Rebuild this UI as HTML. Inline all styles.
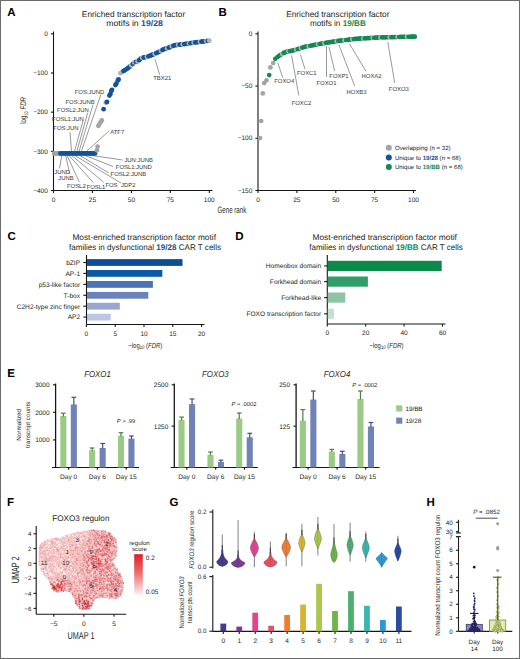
<!DOCTYPE html>
<html><head><meta charset="utf-8"><style>
html,body{margin:0;padding:0;background:#fff;}
svg{display:block;font-family:"Liberation Sans",sans-serif;text-rendering:geometricPrecision;}
</style></head><body>
<svg width="520" height="659" viewBox="0 0 520 659">
<rect x="0" y="0" width="520" height="659" fill="#fff"/>
<text x="7.20" y="16.20" font-size="11.5" font-weight="bold" fill="#000">A</text>
<text x="218.40" y="15.90" font-size="11.5" font-weight="bold" fill="#000">B</text>
<text x="7.40" y="239.70" font-size="11.5" font-weight="bold" fill="#000">C</text>
<text x="235.20" y="239.70" font-size="11.5" font-weight="bold" fill="#000">D</text>
<text x="7.30" y="376.50" font-size="11.5" font-weight="bold" fill="#000">E</text>
<text x="7.00" y="506.00" font-size="11.5" font-weight="bold" fill="#000">F</text>
<text x="169.60" y="506.30" font-size="11.5" font-weight="bold" fill="#000">G</text>
<text x="426.60" y="505.50" font-size="11.5" font-weight="bold" fill="#000">H</text>
<line x1="53.50" y1="31.50" x2="53.50" y2="190.50" stroke="#161616" stroke-width="1.1"/>
<line x1="50.90" y1="33.80" x2="53.50" y2="33.80" stroke="#161616" stroke-width="1.1"/>
<text x="47.80" y="36.00" font-size="6.5" text-anchor="end" fill="#231f20">0</text>
<line x1="50.90" y1="72.97" x2="53.50" y2="72.97" stroke="#161616" stroke-width="1.1"/>
<text x="47.80" y="75.17" font-size="6.5" text-anchor="end" fill="#231f20">−100</text>
<line x1="50.90" y1="112.15" x2="53.50" y2="112.15" stroke="#161616" stroke-width="1.1"/>
<text x="47.80" y="114.35" font-size="6.5" text-anchor="end" fill="#231f20">−200</text>
<line x1="50.90" y1="151.32" x2="53.50" y2="151.32" stroke="#161616" stroke-width="1.1"/>
<text x="47.80" y="153.52" font-size="6.5" text-anchor="end" fill="#231f20">−300</text>
<line x1="50.90" y1="190.50" x2="53.50" y2="190.50" stroke="#161616" stroke-width="1.1"/>
<text x="47.80" y="192.70" font-size="6.5" text-anchor="end" fill="#231f20">−400</text>
<line x1="53.50" y1="190.50" x2="212.50" y2="190.50" stroke="#161616" stroke-width="1.1"/>
<line x1="53.50" y1="190.50" x2="53.50" y2="193.10" stroke="#161616" stroke-width="1.1"/>
<text x="53.50" y="201.70" font-size="6.5" text-anchor="middle" fill="#231f20">0</text>
<line x1="92.45" y1="190.50" x2="92.45" y2="193.10" stroke="#161616" stroke-width="1.1"/>
<text x="92.45" y="201.70" font-size="6.5" text-anchor="middle" fill="#231f20">25</text>
<line x1="131.40" y1="190.50" x2="131.40" y2="193.10" stroke="#161616" stroke-width="1.1"/>
<text x="131.40" y="201.70" font-size="6.5" text-anchor="middle" fill="#231f20">50</text>
<line x1="170.35" y1="190.50" x2="170.35" y2="193.10" stroke="#161616" stroke-width="1.1"/>
<text x="170.35" y="201.70" font-size="6.5" text-anchor="middle" fill="#231f20">75</text>
<line x1="209.30" y1="190.50" x2="209.30" y2="193.10" stroke="#161616" stroke-width="1.1"/>
<text x="209.30" y="201.70" font-size="6.5" text-anchor="middle" fill="#231f20">100</text>
<text x="133.50" y="16.50" font-size="8.3" text-anchor="middle" fill="#231f20">Enriched transcription factor</text>
<text x="134.6" y="25.9" font-size="8.3" text-anchor="middle" fill="#231f20" textLength="56.7" lengthAdjust="spacingAndGlyphs">motifs in <tspan font-weight="bold" fill="#18508f">19/28</tspan></text>
<text transform="translate(26.3,110.4) rotate(-90)" font-size="8.2" text-anchor="middle" fill="#231f20" textLength="26.7" lengthAdjust="spacingAndGlyphs">log<tspan font-size="5.2" dy="1.8">10</tspan><tspan dy="-1.8" font-style="italic"> FDR</tspan></text>
<text x="231.9" y="213.1" font-size="9.2" text-anchor="middle" fill="#231f20" textLength="28.8" lengthAdjust="spacingAndGlyphs">Gene rank</text>
<circle cx="54.20" cy="153.40" r="2.40" fill="#a2a3a6"/>
<circle cx="55.30" cy="153.40" r="2.40" fill="#a2a3a6"/>
<circle cx="56.40" cy="153.40" r="2.40" fill="#a2a3a6"/>
<circle cx="57.50" cy="153.40" r="2.40" fill="#a2a3a6"/>
<circle cx="58.60" cy="153.40" r="2.40" fill="#a2a3a6"/>
<circle cx="59.70" cy="153.40" r="2.40" fill="#a2a3a6"/>
<circle cx="60.50" cy="153.40" r="2.40" fill="#11539c"/>
<circle cx="62.00" cy="153.40" r="2.40" fill="#11539c"/>
<circle cx="63.50" cy="153.40" r="2.40" fill="#11539c"/>
<circle cx="65.00" cy="153.40" r="2.40" fill="#11539c"/>
<circle cx="66.50" cy="153.40" r="2.40" fill="#11539c"/>
<circle cx="68.00" cy="153.40" r="2.40" fill="#11539c"/>
<circle cx="69.50" cy="153.40" r="2.40" fill="#11539c"/>
<circle cx="71.00" cy="153.40" r="2.40" fill="#11539c"/>
<circle cx="72.50" cy="153.40" r="2.40" fill="#11539c"/>
<circle cx="74.00" cy="153.40" r="2.40" fill="#11539c"/>
<circle cx="75.50" cy="153.40" r="2.40" fill="#11539c"/>
<circle cx="77.00" cy="153.40" r="2.40" fill="#11539c"/>
<circle cx="78.50" cy="153.40" r="2.40" fill="#11539c"/>
<circle cx="80.00" cy="153.40" r="2.40" fill="#11539c"/>
<circle cx="81.50" cy="153.40" r="2.40" fill="#11539c"/>
<circle cx="83.00" cy="153.40" r="2.40" fill="#11539c"/>
<circle cx="84.50" cy="153.40" r="2.40" fill="#11539c"/>
<circle cx="86.00" cy="153.40" r="2.40" fill="#11539c"/>
<circle cx="87.50" cy="153.40" r="2.40" fill="#11539c"/>
<circle cx="89.00" cy="153.40" r="2.40" fill="#11539c"/>
<circle cx="90.50" cy="153.40" r="2.40" fill="#11539c"/>
<circle cx="92.00" cy="153.40" r="2.40" fill="#11539c"/>
<circle cx="93.50" cy="153.40" r="2.40" fill="#11539c"/>
<circle cx="95.00" cy="153.40" r="2.40" fill="#11539c"/>
<circle cx="97.00" cy="150.30" r="2.40" fill="#a2a3a6"/>
<circle cx="97.60" cy="146.60" r="2.40" fill="#a2a3a6"/>
<circle cx="98.40" cy="125.80" r="2.40" fill="#a2a3a6"/>
<circle cx="99.60" cy="123.80" r="2.40" fill="#a2a3a6"/>
<circle cx="100.80" cy="121.80" r="2.40" fill="#a2a3a6"/>
<circle cx="101.80" cy="120.40" r="2.40" fill="#a2a3a6"/>
<circle cx="103.60" cy="109.20" r="2.40" fill="#11539c"/>
<circle cx="105.80" cy="102.60" r="2.40" fill="#a2a3a6"/>
<circle cx="107.00" cy="102.00" r="2.40" fill="#11539c"/>
<circle cx="109.40" cy="95.60" r="2.40" fill="#11539c"/>
<circle cx="110.30" cy="94.20" r="2.40" fill="#11539c"/>
<circle cx="111.30" cy="91.00" r="2.40" fill="#11539c"/>
<circle cx="112.00" cy="89.80" r="2.40" fill="#11539c"/>
<circle cx="115.40" cy="85.00" r="2.40" fill="#11539c"/>
<circle cx="116.40" cy="83.60" r="2.40" fill="#11539c"/>
<circle cx="117.80" cy="80.40" r="2.40" fill="#11539c"/>
<circle cx="118.60" cy="79.40" r="2.40" fill="#11539c"/>
<circle cx="120.40" cy="73.20" r="2.40" fill="#b3b5b8"/>
<circle cx="121.96" cy="72.05" r="2.40" fill="#b3b5b8"/>
<circle cx="123.52" cy="71.00" r="2.40" fill="#11539c"/>
<circle cx="125.08" cy="70.06" r="2.40" fill="#11539c"/>
<circle cx="126.64" cy="69.09" r="2.40" fill="#11539c"/>
<circle cx="128.20" cy="67.89" r="2.40" fill="#11539c"/>
<circle cx="129.76" cy="66.69" r="2.40" fill="#11539c"/>
<circle cx="131.32" cy="65.30" r="2.40" fill="#b3b5b8"/>
<circle cx="132.88" cy="63.79" r="2.40" fill="#11539c"/>
<circle cx="134.44" cy="62.42" r="2.40" fill="#b3b5b8"/>
<circle cx="136.00" cy="61.93" r="2.40" fill="#11539c"/>
<circle cx="137.56" cy="61.44" r="2.40" fill="#b3b5b8"/>
<circle cx="139.12" cy="60.14" r="2.40" fill="#11539c"/>
<circle cx="140.68" cy="58.54" r="2.40" fill="#11539c"/>
<circle cx="142.24" cy="57.81" r="2.40" fill="#b3b5b8"/>
<circle cx="143.80" cy="57.52" r="2.40" fill="#11539c"/>
<circle cx="145.36" cy="57.20" r="2.40" fill="#11539c"/>
<circle cx="146.92" cy="56.79" r="2.40" fill="#b3b5b8"/>
<circle cx="148.48" cy="56.32" r="2.40" fill="#11539c"/>
<circle cx="150.04" cy="55.73" r="2.40" fill="#11539c"/>
<circle cx="151.60" cy="55.15" r="2.40" fill="#11539c"/>
<circle cx="153.16" cy="54.48" r="2.40" fill="#11539c"/>
<circle cx="154.72" cy="53.79" r="2.40" fill="#b3b5b8"/>
<circle cx="156.28" cy="53.10" r="2.40" fill="#11539c"/>
<circle cx="157.84" cy="52.39" r="2.40" fill="#11539c"/>
<circle cx="159.40" cy="51.69" r="2.40" fill="#11539c"/>
<circle cx="160.96" cy="50.83" r="2.40" fill="#b3b5b8"/>
<circle cx="162.52" cy="49.95" r="2.40" fill="#11539c"/>
<circle cx="164.08" cy="49.22" r="2.40" fill="#11539c"/>
<circle cx="165.64" cy="48.72" r="2.40" fill="#11539c"/>
<circle cx="167.20" cy="48.23" r="2.40" fill="#b3b5b8"/>
<circle cx="168.76" cy="47.61" r="2.40" fill="#11539c"/>
<circle cx="170.32" cy="46.98" r="2.40" fill="#11539c"/>
<circle cx="171.88" cy="46.35" r="2.40" fill="#b3b5b8"/>
<circle cx="173.44" cy="45.77" r="2.40" fill="#11539c"/>
<circle cx="175.00" cy="45.20" r="2.40" fill="#11539c"/>
<circle cx="176.56" cy="45.01" r="2.40" fill="#11539c"/>
<circle cx="178.12" cy="44.83" r="2.40" fill="#b3b5b8"/>
<circle cx="179.68" cy="44.64" r="2.40" fill="#11539c"/>
<circle cx="181.24" cy="44.45" r="2.40" fill="#11539c"/>
<circle cx="182.80" cy="44.26" r="2.40" fill="#b3b5b8"/>
<circle cx="184.36" cy="44.08" r="2.40" fill="#11539c"/>
<circle cx="185.92" cy="43.86" r="2.40" fill="#11539c"/>
<circle cx="187.48" cy="43.63" r="2.40" fill="#11539c"/>
<circle cx="189.04" cy="43.39" r="2.40" fill="#b3b5b8"/>
<circle cx="190.60" cy="43.16" r="2.40" fill="#11539c"/>
<circle cx="192.16" cy="42.93" r="2.40" fill="#11539c"/>
<circle cx="193.72" cy="42.69" r="2.40" fill="#b3b5b8"/>
<circle cx="195.28" cy="42.46" r="2.40" fill="#11539c"/>
<circle cx="196.84" cy="42.27" r="2.40" fill="#11539c"/>
<circle cx="198.40" cy="42.07" r="2.40" fill="#11539c"/>
<circle cx="199.96" cy="41.87" r="2.40" fill="#b3b5b8"/>
<circle cx="201.52" cy="41.67" r="2.40" fill="#11539c"/>
<circle cx="203.08" cy="41.48" r="2.40" fill="#11539c"/>
<circle cx="204.64" cy="41.28" r="2.40" fill="#11539c"/>
<circle cx="206.20" cy="41.08" r="2.40" fill="#b3b5b8"/>
<circle cx="207.76" cy="40.88" r="2.40" fill="#11539c"/>
<circle cx="209.32" cy="40.69" r="2.40" fill="#b3b5b8"/>
<line x1="100.80" y1="94.60" x2="81.50" y2="151.00" stroke="#444" stroke-width="0.55"/>
<text x="104.20" y="94.10" font-size="5.9" text-anchor="end" fill="#333">FOS:JUND</text>
<line x1="93.00" y1="104.60" x2="79.20" y2="151.00" stroke="#444" stroke-width="0.55"/>
<text x="94.60" y="103.60" font-size="5.9" text-anchor="end" fill="#333">FOS:JUNB</text>
<line x1="87.70" y1="112.60" x2="77.00" y2="151.00" stroke="#444" stroke-width="0.55"/>
<text x="88.80" y="112.10" font-size="5.9" text-anchor="end" fill="#333">FOSL2:JUN</text>
<line x1="83.00" y1="120.80" x2="74.60" y2="151.00" stroke="#444" stroke-width="0.55"/>
<text x="83.80" y="120.60" font-size="5.9" text-anchor="end" fill="#333">FOSL1:JUN</text>
<line x1="70.00" y1="132.30" x2="71.50" y2="151.00" stroke="#444" stroke-width="0.55"/>
<text x="78.50" y="130.30" font-size="5.9" text-anchor="end" fill="#333">FOS:JUN</text>
<line x1="109.20" y1="130.80" x2="86.90" y2="151.00" stroke="#444" stroke-width="0.55"/>
<text x="110.20" y="133.60" font-size="5.9" fill="#333">ATF7</text>
<line x1="155.00" y1="59.20" x2="159.60" y2="74.60" stroke="#444" stroke-width="0.55"/>
<text x="153.20" y="80.10" font-size="5.9" fill="#333">TBX21</text>
<line x1="61.80" y1="155.40" x2="59.50" y2="168.40" stroke="#444" stroke-width="0.55"/>
<text x="54.30" y="174.40" font-size="5.9" fill="#333">JUND</text>
<line x1="65.60" y1="155.40" x2="69.90" y2="174.40" stroke="#444" stroke-width="0.55"/>
<text x="58.30" y="180.00" font-size="5.9" fill="#333">JUNB</text>
<line x1="67.00" y1="155.40" x2="79.40" y2="182.20" stroke="#444" stroke-width="0.55"/>
<text x="67.00" y="187.80" font-size="5.9" fill="#333">FOSL2</text>
<line x1="69.00" y1="155.40" x2="93.30" y2="182.70" stroke="#444" stroke-width="0.55"/>
<text x="86.70" y="188.60" font-size="5.9" fill="#333">FOSL1</text>
<line x1="71.60" y1="155.40" x2="103.70" y2="182.20" stroke="#444" stroke-width="0.55"/>
<text x="105.40" y="187.30" font-size="5.9" fill="#333">FOS</text>
<line x1="74.20" y1="155.20" x2="121.00" y2="183.00" stroke="#444" stroke-width="0.55"/>
<text x="121.00" y="186.90" font-size="5.9" fill="#333">JDP2</text>
<line x1="79.40" y1="155.20" x2="108.80" y2="173.00" stroke="#444" stroke-width="0.55"/>
<text x="110.60" y="175.70" font-size="5.9" fill="#333">FOSL2:JUNB</text>
<line x1="84.60" y1="155.20" x2="113.20" y2="166.60" stroke="#444" stroke-width="0.55"/>
<text x="115.80" y="168.70" font-size="5.9" fill="#333">FOSL1:JUND</text>
<line x1="89.80" y1="155.20" x2="122.70" y2="160.00" stroke="#444" stroke-width="0.55"/>
<text x="124.40" y="162.30" font-size="5.9" fill="#333">JUN:JUNB</text>
<line x1="258.00" y1="31.50" x2="258.00" y2="190.50" stroke="#161616" stroke-width="1.1"/>
<line x1="255.40" y1="33.80" x2="258.00" y2="33.80" stroke="#161616" stroke-width="1.1"/>
<text x="252.30" y="36.00" font-size="6.5" text-anchor="end" fill="#231f20">0</text>
<line x1="255.40" y1="86.03" x2="258.00" y2="86.03" stroke="#161616" stroke-width="1.1"/>
<text x="252.30" y="88.23" font-size="6.5" text-anchor="end" fill="#231f20">−50</text>
<line x1="255.40" y1="138.27" x2="258.00" y2="138.27" stroke="#161616" stroke-width="1.1"/>
<text x="252.30" y="140.47" font-size="6.5" text-anchor="end" fill="#231f20">−100</text>
<line x1="255.40" y1="190.50" x2="258.00" y2="190.50" stroke="#161616" stroke-width="1.1"/>
<text x="252.30" y="192.70" font-size="6.5" text-anchor="end" fill="#231f20">−150</text>
<line x1="258.00" y1="190.50" x2="416.00" y2="190.50" stroke="#161616" stroke-width="1.1"/>
<line x1="258.00" y1="190.50" x2="258.00" y2="193.10" stroke="#161616" stroke-width="1.1"/>
<text x="258.00" y="201.70" font-size="6.5" text-anchor="middle" fill="#231f20">0</text>
<line x1="296.88" y1="190.50" x2="296.88" y2="193.10" stroke="#161616" stroke-width="1.1"/>
<text x="296.88" y="201.70" font-size="6.5" text-anchor="middle" fill="#231f20">25</text>
<line x1="335.75" y1="190.50" x2="335.75" y2="193.10" stroke="#161616" stroke-width="1.1"/>
<text x="335.75" y="201.70" font-size="6.5" text-anchor="middle" fill="#231f20">50</text>
<line x1="374.62" y1="190.50" x2="374.62" y2="193.10" stroke="#161616" stroke-width="1.1"/>
<text x="374.62" y="201.70" font-size="6.5" text-anchor="middle" fill="#231f20">75</text>
<line x1="413.50" y1="190.50" x2="413.50" y2="193.10" stroke="#161616" stroke-width="1.1"/>
<text x="413.50" y="201.70" font-size="6.5" text-anchor="middle" fill="#231f20">100</text>
<text x="337.80" y="16.70" font-size="8.3" text-anchor="middle" fill="#231f20">Enriched transcription factor</text>
<text x="337.9" y="25.9" font-size="8.3" text-anchor="middle" fill="#231f20" textLength="55.8" lengthAdjust="spacingAndGlyphs">motifs in <tspan font-weight="bold" fill="#12894f">19/BB</tspan></text>
<circle cx="260.00" cy="138.10" r="2.35" fill="#a2a3a6"/>
<circle cx="261.20" cy="121.00" r="2.35" fill="#a2a3a6"/>
<circle cx="262.80" cy="93.40" r="2.35" fill="#a2a3a6"/>
<circle cx="264.20" cy="83.10" r="2.35" fill="#a2a3a6"/>
<circle cx="266.50" cy="80.30" r="2.35" fill="#a2a3a6"/>
<circle cx="269.20" cy="75.10" r="2.35" fill="#12894f"/>
<circle cx="270.40" cy="67.40" r="2.35" fill="#a2a3a6"/>
<circle cx="273.20" cy="63.00" r="2.35" fill="#a2a3a6"/>
<circle cx="275.30" cy="58.80" r="2.35" fill="#12894f"/>
<circle cx="277.50" cy="57.00" r="2.35" fill="#12894f"/>
<circle cx="279.06" cy="55.81" r="2.35" fill="#12894f"/>
<circle cx="280.62" cy="54.77" r="2.35" fill="#12894f"/>
<circle cx="282.18" cy="53.81" r="2.35" fill="#b3b5b8"/>
<circle cx="283.74" cy="52.91" r="2.35" fill="#12894f"/>
<circle cx="285.30" cy="52.29" r="2.35" fill="#12894f"/>
<circle cx="286.86" cy="51.67" r="2.35" fill="#12894f"/>
<circle cx="288.42" cy="51.36" r="2.35" fill="#b3b5b8"/>
<circle cx="289.98" cy="51.16" r="2.35" fill="#12894f"/>
<circle cx="291.54" cy="50.90" r="2.35" fill="#12894f"/>
<circle cx="293.10" cy="50.44" r="2.35" fill="#12894f"/>
<circle cx="294.66" cy="49.98" r="2.35" fill="#12894f"/>
<circle cx="296.22" cy="49.52" r="2.35" fill="#b3b5b8"/>
<circle cx="297.78" cy="49.05" r="2.35" fill="#12894f"/>
<circle cx="299.34" cy="48.55" r="2.35" fill="#12894f"/>
<circle cx="300.90" cy="48.06" r="2.35" fill="#b3b5b8"/>
<circle cx="302.46" cy="47.56" r="2.35" fill="#12894f"/>
<circle cx="304.02" cy="47.07" r="2.35" fill="#12894f"/>
<circle cx="305.58" cy="46.57" r="2.35" fill="#12894f"/>
<circle cx="307.14" cy="46.27" r="2.35" fill="#12894f"/>
<circle cx="308.70" cy="46.01" r="2.35" fill="#b3b5b8"/>
<circle cx="310.26" cy="45.75" r="2.35" fill="#12894f"/>
<circle cx="311.82" cy="45.48" r="2.35" fill="#12894f"/>
<circle cx="313.38" cy="45.22" r="2.35" fill="#12894f"/>
<circle cx="314.94" cy="44.92" r="2.35" fill="#12894f"/>
<circle cx="316.50" cy="44.61" r="2.35" fill="#12894f"/>
<circle cx="318.06" cy="44.31" r="2.35" fill="#b3b5b8"/>
<circle cx="319.62" cy="44.00" r="2.35" fill="#12894f"/>
<circle cx="321.18" cy="43.69" r="2.35" fill="#12894f"/>
<circle cx="322.74" cy="43.39" r="2.35" fill="#12894f"/>
<circle cx="324.30" cy="43.08" r="2.35" fill="#b3b5b8"/>
<circle cx="325.86" cy="42.84" r="2.35" fill="#12894f"/>
<circle cx="327.42" cy="42.60" r="2.35" fill="#12894f"/>
<circle cx="328.98" cy="42.36" r="2.35" fill="#12894f"/>
<circle cx="330.54" cy="42.11" r="2.35" fill="#12894f"/>
<circle cx="332.10" cy="41.87" r="2.35" fill="#12894f"/>
<circle cx="333.66" cy="41.63" r="2.35" fill="#12894f"/>
<circle cx="335.22" cy="41.39" r="2.35" fill="#12894f"/>
<circle cx="336.78" cy="41.14" r="2.35" fill="#b3b5b8"/>
<circle cx="338.34" cy="40.90" r="2.35" fill="#12894f"/>
<circle cx="339.90" cy="40.70" r="2.35" fill="#12894f"/>
<circle cx="341.46" cy="40.52" r="2.35" fill="#12894f"/>
<circle cx="343.02" cy="40.35" r="2.35" fill="#12894f"/>
<circle cx="344.58" cy="40.17" r="2.35" fill="#b3b5b8"/>
<circle cx="346.14" cy="40.00" r="2.35" fill="#12894f"/>
<circle cx="347.70" cy="39.82" r="2.35" fill="#12894f"/>
<circle cx="349.26" cy="39.65" r="2.35" fill="#12894f"/>
<circle cx="350.82" cy="39.47" r="2.35" fill="#12894f"/>
<circle cx="352.38" cy="39.30" r="2.35" fill="#b3b5b8"/>
<circle cx="353.94" cy="39.12" r="2.35" fill="#12894f"/>
<circle cx="355.50" cy="38.95" r="2.35" fill="#12894f"/>
<circle cx="357.06" cy="38.77" r="2.35" fill="#12894f"/>
<circle cx="358.62" cy="38.65" r="2.35" fill="#12894f"/>
<circle cx="360.18" cy="38.56" r="2.35" fill="#12894f"/>
<circle cx="361.74" cy="38.47" r="2.35" fill="#12894f"/>
<circle cx="363.30" cy="38.38" r="2.35" fill="#b3b5b8"/>
<circle cx="364.86" cy="38.30" r="2.35" fill="#12894f"/>
<circle cx="366.42" cy="38.21" r="2.35" fill="#12894f"/>
<circle cx="367.98" cy="38.12" r="2.35" fill="#12894f"/>
<circle cx="369.54" cy="38.03" r="2.35" fill="#12894f"/>
<circle cx="371.10" cy="37.95" r="2.35" fill="#12894f"/>
<circle cx="372.66" cy="37.86" r="2.35" fill="#b3b5b8"/>
<circle cx="374.22" cy="37.77" r="2.35" fill="#12894f"/>
<circle cx="375.78" cy="37.68" r="2.35" fill="#12894f"/>
<circle cx="377.34" cy="37.59" r="2.35" fill="#12894f"/>
<circle cx="378.90" cy="37.51" r="2.35" fill="#12894f"/>
<circle cx="380.46" cy="37.42" r="2.35" fill="#b3b5b8"/>
<circle cx="382.02" cy="37.37" r="2.35" fill="#12894f"/>
<circle cx="383.58" cy="37.34" r="2.35" fill="#12894f"/>
<circle cx="385.14" cy="37.30" r="2.35" fill="#12894f"/>
<circle cx="386.70" cy="37.27" r="2.35" fill="#12894f"/>
<circle cx="388.26" cy="37.23" r="2.35" fill="#12894f"/>
<circle cx="389.82" cy="37.19" r="2.35" fill="#b3b5b8"/>
<circle cx="391.38" cy="37.16" r="2.35" fill="#12894f"/>
<circle cx="392.94" cy="37.12" r="2.35" fill="#12894f"/>
<circle cx="394.50" cy="37.09" r="2.35" fill="#12894f"/>
<circle cx="396.06" cy="37.05" r="2.35" fill="#12894f"/>
<circle cx="397.62" cy="37.02" r="2.35" fill="#b3b5b8"/>
<circle cx="399.18" cy="36.98" r="2.35" fill="#12894f"/>
<circle cx="400.74" cy="36.95" r="2.35" fill="#12894f"/>
<circle cx="402.30" cy="36.91" r="2.35" fill="#12894f"/>
<circle cx="403.86" cy="36.88" r="2.35" fill="#12894f"/>
<circle cx="405.42" cy="36.84" r="2.35" fill="#12894f"/>
<circle cx="406.98" cy="36.80" r="2.35" fill="#b3b5b8"/>
<circle cx="408.54" cy="36.77" r="2.35" fill="#12894f"/>
<circle cx="410.10" cy="36.73" r="2.35" fill="#12894f"/>
<circle cx="411.66" cy="36.70" r="2.35" fill="#12894f"/>
<circle cx="413.22" cy="36.66" r="2.35" fill="#12894f"/>
<circle cx="414.78" cy="36.63" r="2.35" fill="#12894f"/>
<line x1="277.80" y1="62.80" x2="282.70" y2="77.70" stroke="#444" stroke-width="0.55"/>
<text x="284.20" y="83.40" font-size="5.9" text-anchor="middle" fill="#333">FOXO4</text>
<line x1="291.60" y1="55.40" x2="298.80" y2="95.40" stroke="#444" stroke-width="0.55"/>
<text x="301.50" y="105.20" font-size="5.9" text-anchor="middle" fill="#333">FOXC2</text>
<line x1="300.40" y1="54.60" x2="305.00" y2="69.20" stroke="#444" stroke-width="0.55"/>
<text x="306.80" y="75.00" font-size="5.9" text-anchor="middle" fill="#333">FOXC1</text>
<line x1="326.50" y1="46.20" x2="326.50" y2="77.00" stroke="#444" stroke-width="0.55"/>
<text x="326.50" y="85.30" font-size="5.9" text-anchor="middle" fill="#333">FOXO1</text>
<line x1="329.00" y1="47.00" x2="334.60" y2="71.00" stroke="#444" stroke-width="0.55"/>
<text x="339.00" y="78.00" font-size="5.9" text-anchor="middle" fill="#333">FOXP1</text>
<line x1="339.00" y1="45.00" x2="354.70" y2="86.00" stroke="#444" stroke-width="0.55"/>
<text x="356.60" y="93.60" font-size="5.9" text-anchor="middle" fill="#333">HOXB3</text>
<line x1="349.60" y1="44.00" x2="365.80" y2="71.00" stroke="#444" stroke-width="0.55"/>
<text x="371.60" y="77.90" font-size="5.9" text-anchor="middle" fill="#333">HOXA2</text>
<line x1="387.80" y1="42.00" x2="394.70" y2="83.00" stroke="#444" stroke-width="0.55"/>
<text x="398.80" y="90.80" font-size="5.9" text-anchor="middle" fill="#333">FOXO3</text>
<circle cx="388.80" cy="147.80" r="3.00" fill="#a2a3a6"/>
<text x="394.90" y="149.90" font-size="6.1" fill="#231f20">Overlapping (n = 32)</text>
<circle cx="388.80" cy="157.40" r="3.00" fill="#11539c"/>
<text x="394.9" y="159.50" font-size="6.1" fill="#231f20">Unique to <tspan font-weight="bold" fill="#18508f">19/28</tspan> (n = 68)</text>
<circle cx="388.80" cy="166.90" r="3.00" fill="#12894f"/>
<text x="394.9" y="169.00" font-size="6.1" fill="#231f20">Unique to <tspan font-weight="bold" fill="#12894f">19/BB</tspan> (n = 68)</text>
<line x1="86.50" y1="255.00" x2="86.50" y2="324.50" stroke="#161616" stroke-width="1.1"/>
<line x1="86.50" y1="324.50" x2="204.50" y2="324.50" stroke="#161616" stroke-width="1.1"/>
<line x1="86.40" y1="324.50" x2="86.40" y2="327.10" stroke="#161616" stroke-width="1.1"/>
<text x="86.40" y="335.70" font-size="6.5" text-anchor="middle" fill="#231f20">0</text>
<line x1="115.20" y1="324.50" x2="115.20" y2="327.10" stroke="#161616" stroke-width="1.1"/>
<text x="115.20" y="335.70" font-size="6.5" text-anchor="middle" fill="#231f20">5</text>
<line x1="144.00" y1="324.50" x2="144.00" y2="327.10" stroke="#161616" stroke-width="1.1"/>
<text x="144.00" y="335.70" font-size="6.5" text-anchor="middle" fill="#231f20">10</text>
<line x1="172.80" y1="324.50" x2="172.80" y2="327.10" stroke="#161616" stroke-width="1.1"/>
<text x="172.80" y="335.70" font-size="6.5" text-anchor="middle" fill="#231f20">15</text>
<line x1="201.60" y1="324.50" x2="201.60" y2="327.10" stroke="#161616" stroke-width="1.1"/>
<text x="201.60" y="335.70" font-size="6.5" text-anchor="middle" fill="#231f20">20</text>
<rect x="87.00" y="259.10" width="95.50" height="6.80" fill="#0c4f96"/>
<line x1="83.30" y1="262.50" x2="86.50" y2="262.50" stroke="#161616" stroke-width="1.1"/>
<text x="80.10" y="264.80" font-size="6.6" text-anchor="end" fill="#231f20">bZIP</text>
<rect x="87.00" y="270.00" width="75.30" height="6.80" fill="#0b5aa6"/>
<line x1="83.30" y1="273.40" x2="86.50" y2="273.40" stroke="#161616" stroke-width="1.1"/>
<text x="80.10" y="275.70" font-size="6.6" text-anchor="end" fill="#231f20">AP-1</text>
<rect x="87.00" y="281.00" width="65.90" height="6.80" fill="#4b72b4"/>
<line x1="83.30" y1="284.40" x2="86.50" y2="284.40" stroke="#161616" stroke-width="1.1"/>
<text x="80.10" y="286.70" font-size="6.6" text-anchor="end" fill="#231f20">p53-like factor</text>
<rect x="87.00" y="291.90" width="61.30" height="6.80" fill="#6a83bd"/>
<line x1="83.30" y1="295.30" x2="86.50" y2="295.30" stroke="#161616" stroke-width="1.1"/>
<text x="80.10" y="297.60" font-size="6.6" text-anchor="end" fill="#231f20">T-box</text>
<rect x="87.00" y="302.80" width="32.80" height="6.80" fill="#98a6d1"/>
<line x1="83.30" y1="306.20" x2="86.50" y2="306.20" stroke="#161616" stroke-width="1.1"/>
<text x="80.10" y="308.50" font-size="6.6" text-anchor="end" fill="#231f20">C2H2-type zinc finger</text>
<rect x="87.00" y="313.70" width="23.70" height="6.80" fill="#bcc5e2"/>
<line x1="83.30" y1="317.10" x2="86.50" y2="317.10" stroke="#161616" stroke-width="1.1"/>
<text x="80.10" y="319.40" font-size="6.6" text-anchor="end" fill="#231f20">AP2</text>
<text x="144.20" y="240.10" font-size="8.2" text-anchor="middle" fill="#231f20" textLength="143.50" lengthAdjust="spacingAndGlyphs">Most-enriched transcription factor motif</text>
<text x="145" y="249.7" font-size="8.2" text-anchor="middle" fill="#231f20" textLength="152" lengthAdjust="spacingAndGlyphs">families in dysfunctional <tspan font-weight="bold" fill="#18508f">19/28</tspan> CAR T cells</text>
<text x="145.3" y="347.5" font-size="7.3" text-anchor="middle" fill="#231f20" textLength="34" lengthAdjust="spacingAndGlyphs">−log<tspan font-size="5.2" dy="1.6">10</tspan><tspan dy="-1.6"> (</tspan><tspan font-style="italic">FDR</tspan>)</text>
<line x1="327.30" y1="255.00" x2="327.30" y2="324.00" stroke="#161616" stroke-width="1.1"/>
<line x1="327.30" y1="324.00" x2="445.50" y2="324.00" stroke="#161616" stroke-width="1.1"/>
<line x1="327.30" y1="324.00" x2="327.30" y2="326.60" stroke="#161616" stroke-width="1.1"/>
<text x="327.30" y="335.20" font-size="6.5" text-anchor="middle" fill="#231f20">0</text>
<line x1="365.70" y1="324.00" x2="365.70" y2="326.60" stroke="#161616" stroke-width="1.1"/>
<text x="365.70" y="335.20" font-size="6.5" text-anchor="middle" fill="#231f20">20</text>
<line x1="404.10" y1="324.00" x2="404.10" y2="326.60" stroke="#161616" stroke-width="1.1"/>
<text x="404.10" y="335.20" font-size="6.5" text-anchor="middle" fill="#231f20">40</text>
<line x1="442.50" y1="324.00" x2="442.50" y2="326.60" stroke="#161616" stroke-width="1.1"/>
<text x="442.50" y="335.20" font-size="6.5" text-anchor="middle" fill="#231f20">60</text>
<rect x="327.80" y="260.80" width="113.90" height="10.20" fill="#0b8a4c"/>
<line x1="324.10" y1="265.90" x2="327.30" y2="265.90" stroke="#161616" stroke-width="1.1"/>
<text x="321.20" y="268.20" font-size="6.6" text-anchor="end" fill="#231f20">Homeobox domain</text>
<rect x="327.80" y="276.50" width="40.10" height="10.20" fill="#2f9e6b"/>
<line x1="324.10" y1="281.60" x2="327.30" y2="281.60" stroke="#161616" stroke-width="1.1"/>
<text x="321.20" y="283.90" font-size="6.6" text-anchor="end" fill="#231f20">Forkhead domain</text>
<rect x="327.80" y="292.50" width="17.50" height="10.20" fill="#8cc5a4"/>
<line x1="324.10" y1="297.60" x2="327.30" y2="297.60" stroke="#161616" stroke-width="1.1"/>
<text x="321.20" y="299.90" font-size="6.6" text-anchor="end" fill="#231f20">Forkhead-like</text>
<rect x="327.80" y="308.70" width="6.20" height="10.20" fill="#c6e0d0"/>
<line x1="324.10" y1="313.80" x2="327.30" y2="313.80" stroke="#161616" stroke-width="1.1"/>
<text x="321.20" y="316.10" font-size="6.6" text-anchor="end" fill="#231f20">FOXO transcription factor</text>
<text x="384.70" y="240.10" font-size="8.2" text-anchor="middle" fill="#231f20" textLength="144.50" lengthAdjust="spacingAndGlyphs">Most-enriched transcription factor motif</text>
<text x="386" y="249.7" font-size="8.2" text-anchor="middle" fill="#231f20" textLength="153.5" lengthAdjust="spacingAndGlyphs">families in dysfunctional <tspan font-weight="bold" fill="#12894f">19/BB</tspan> CAR T cells</text>
<text x="386.5" y="347.5" font-size="7.3" text-anchor="middle" fill="#231f20" textLength="34" lengthAdjust="spacingAndGlyphs">−log<tspan font-size="5.2" dy="1.6">10</tspan><tspan dy="-1.6"> (</tspan><tspan font-style="italic">FDR</tspan>)</text>
<line x1="55.60" y1="383.50" x2="55.60" y2="467.50" stroke="#161616" stroke-width="1.3"/>
<line x1="53.00" y1="384.80" x2="55.60" y2="384.80" stroke="#161616" stroke-width="1.1"/>
<text x="49.60" y="387.10" font-size="6.5" text-anchor="end" fill="#231f20">3000</text>
<line x1="53.00" y1="412.30" x2="55.60" y2="412.30" stroke="#161616" stroke-width="1.1"/>
<text x="49.60" y="414.60" font-size="6.5" text-anchor="end" fill="#231f20">2000</text>
<line x1="53.00" y1="439.90" x2="55.60" y2="439.90" stroke="#161616" stroke-width="1.1"/>
<text x="49.60" y="442.20" font-size="6.5" text-anchor="end" fill="#231f20">1000</text>
<line x1="52.00" y1="467.50" x2="139.10" y2="467.50" stroke="#161616" stroke-width="1.1"/>
<line x1="68.60" y1="467.50" x2="68.60" y2="469.70" stroke="#161616" stroke-width="1.1"/>
<text x="68.60" y="478.70" font-size="6.6" text-anchor="middle" fill="#231f20">Day 0</text>
<rect x="60.30" y="416.00" width="6.10" height="51.50" fill="#9bca87"/>
<line x1="63.35" y1="416.50" x2="63.35" y2="413.20" stroke="#4f7d3f" stroke-width="1.2"/>
<line x1="61.00" y1="413.20" x2="65.70" y2="413.20" stroke="#4f7d3f" stroke-width="1.2"/>
<rect x="70.80" y="404.50" width="6.10" height="63.00" fill="#7083b6"/>
<line x1="73.85" y1="405.00" x2="73.85" y2="397.30" stroke="#3f4f82" stroke-width="1.2"/>
<line x1="71.50" y1="397.30" x2="76.20" y2="397.30" stroke="#3f4f82" stroke-width="1.2"/>
<line x1="97.40" y1="467.50" x2="97.40" y2="469.70" stroke="#161616" stroke-width="1.1"/>
<text x="97.40" y="478.70" font-size="6.6" text-anchor="middle" fill="#231f20">Day 6</text>
<rect x="89.10" y="450.20" width="6.10" height="17.30" fill="#9bca87"/>
<line x1="92.15" y1="450.70" x2="92.15" y2="448.00" stroke="#4f7d3f" stroke-width="1.2"/>
<line x1="89.80" y1="448.00" x2="94.50" y2="448.00" stroke="#4f7d3f" stroke-width="1.2"/>
<rect x="99.60" y="448.00" width="6.10" height="19.50" fill="#7083b6"/>
<line x1="102.65" y1="448.50" x2="102.65" y2="443.50" stroke="#3f4f82" stroke-width="1.2"/>
<line x1="100.30" y1="443.50" x2="105.00" y2="443.50" stroke="#3f4f82" stroke-width="1.2"/>
<line x1="126.20" y1="467.50" x2="126.20" y2="469.70" stroke="#161616" stroke-width="1.1"/>
<text x="126.20" y="478.70" font-size="6.6" text-anchor="middle" fill="#231f20">Day 15</text>
<rect x="117.90" y="436.00" width="6.10" height="31.50" fill="#9bca87"/>
<line x1="120.95" y1="436.50" x2="120.95" y2="432.70" stroke="#4f7d3f" stroke-width="1.2"/>
<line x1="118.60" y1="432.70" x2="123.30" y2="432.70" stroke="#4f7d3f" stroke-width="1.2"/>
<rect x="128.40" y="438.70" width="6.10" height="28.80" fill="#7083b6"/>
<line x1="131.45" y1="439.20" x2="131.45" y2="436.00" stroke="#3f4f82" stroke-width="1.2"/>
<line x1="129.10" y1="436.00" x2="133.80" y2="436.00" stroke="#3f4f82" stroke-width="1.2"/>
<text x="97.50" y="376.80" font-size="8.6" text-anchor="middle" fill="#231f20" textLength="26.60" lengthAdjust="spacingAndGlyphs" font-style="italic">FOXO1</text>
<text x="126.00" y="423.20" font-size="5.8" text-anchor="middle" fill="#231f20"><tspan font-style="italic">P</tspan> &gt; .99</text>
<line x1="174.30" y1="383.50" x2="174.30" y2="467.50" stroke="#161616" stroke-width="1.3"/>
<line x1="171.70" y1="384.80" x2="174.30" y2="384.80" stroke="#161616" stroke-width="1.1"/>
<text x="168.30" y="387.10" font-size="6.5" text-anchor="end" fill="#231f20">2500</text>
<line x1="171.70" y1="426.20" x2="174.30" y2="426.20" stroke="#161616" stroke-width="1.1"/>
<text x="168.30" y="428.50" font-size="6.5" text-anchor="end" fill="#231f20">1250</text>
<line x1="170.70" y1="467.50" x2="257.80" y2="467.50" stroke="#161616" stroke-width="1.1"/>
<line x1="186.80" y1="467.50" x2="186.80" y2="469.70" stroke="#161616" stroke-width="1.1"/>
<text x="186.80" y="478.70" font-size="6.6" text-anchor="middle" fill="#231f20">Day 0</text>
<rect x="178.50" y="419.80" width="6.10" height="47.70" fill="#9bca87"/>
<line x1="181.55" y1="420.30" x2="181.55" y2="417.10" stroke="#4f7d3f" stroke-width="1.2"/>
<line x1="179.20" y1="417.10" x2="183.90" y2="417.10" stroke="#4f7d3f" stroke-width="1.2"/>
<rect x="189.00" y="404.20" width="6.10" height="63.30" fill="#7083b6"/>
<line x1="192.05" y1="404.70" x2="192.05" y2="399.00" stroke="#3f4f82" stroke-width="1.2"/>
<line x1="189.70" y1="399.00" x2="194.40" y2="399.00" stroke="#3f4f82" stroke-width="1.2"/>
<line x1="215.70" y1="467.50" x2="215.70" y2="469.70" stroke="#161616" stroke-width="1.1"/>
<text x="215.70" y="478.70" font-size="6.6" text-anchor="middle" fill="#231f20">Day 6</text>
<rect x="207.40" y="454.80" width="6.10" height="12.70" fill="#9bca87"/>
<line x1="210.45" y1="455.30" x2="210.45" y2="452.00" stroke="#4f7d3f" stroke-width="1.2"/>
<line x1="208.10" y1="452.00" x2="212.80" y2="452.00" stroke="#4f7d3f" stroke-width="1.2"/>
<rect x="217.90" y="462.00" width="6.10" height="5.50" fill="#7083b6"/>
<line x1="220.95" y1="462.50" x2="220.95" y2="460.20" stroke="#3f4f82" stroke-width="1.2"/>
<line x1="218.60" y1="460.20" x2="223.30" y2="460.20" stroke="#3f4f82" stroke-width="1.2"/>
<line x1="244.50" y1="467.50" x2="244.50" y2="469.70" stroke="#161616" stroke-width="1.1"/>
<text x="244.50" y="478.70" font-size="6.6" text-anchor="middle" fill="#231f20">Day 15</text>
<rect x="236.20" y="418.50" width="6.10" height="49.00" fill="#9bca87"/>
<line x1="239.25" y1="419.00" x2="239.25" y2="413.00" stroke="#4f7d3f" stroke-width="1.2"/>
<line x1="236.90" y1="413.00" x2="241.60" y2="413.00" stroke="#4f7d3f" stroke-width="1.2"/>
<rect x="246.70" y="437.30" width="6.10" height="30.20" fill="#7083b6"/>
<line x1="249.75" y1="437.80" x2="249.75" y2="433.30" stroke="#3f4f82" stroke-width="1.2"/>
<line x1="247.40" y1="433.30" x2="252.10" y2="433.30" stroke="#3f4f82" stroke-width="1.2"/>
<text x="215.30" y="376.80" font-size="8.6" text-anchor="middle" fill="#231f20" textLength="26.60" lengthAdjust="spacingAndGlyphs" font-style="italic">FOXO3</text>
<text x="243.90" y="406.00" font-size="5.8" text-anchor="middle" fill="#231f20"><tspan font-style="italic">P</tspan> = .0002</text>
<line x1="296.10" y1="383.50" x2="296.10" y2="467.50" stroke="#161616" stroke-width="1.3"/>
<line x1="293.50" y1="384.80" x2="296.10" y2="384.80" stroke="#161616" stroke-width="1.1"/>
<text x="290.10" y="387.10" font-size="6.5" text-anchor="end" fill="#231f20">250</text>
<line x1="293.50" y1="426.20" x2="296.10" y2="426.20" stroke="#161616" stroke-width="1.1"/>
<text x="290.10" y="428.50" font-size="6.5" text-anchor="end" fill="#231f20">125</text>
<line x1="292.50" y1="467.50" x2="379.60" y2="467.50" stroke="#161616" stroke-width="1.1"/>
<line x1="308.10" y1="467.50" x2="308.10" y2="469.70" stroke="#161616" stroke-width="1.1"/>
<text x="308.10" y="478.70" font-size="6.6" text-anchor="middle" fill="#231f20">Day 0</text>
<rect x="299.80" y="420.60" width="6.10" height="46.90" fill="#9bca87"/>
<line x1="302.85" y1="421.10" x2="302.85" y2="409.60" stroke="#4f7d3f" stroke-width="1.2"/>
<line x1="300.50" y1="409.60" x2="305.20" y2="409.60" stroke="#4f7d3f" stroke-width="1.2"/>
<rect x="310.30" y="399.60" width="6.10" height="67.90" fill="#7083b6"/>
<line x1="313.35" y1="400.10" x2="313.35" y2="391.00" stroke="#3f4f82" stroke-width="1.2"/>
<line x1="311.00" y1="391.00" x2="315.70" y2="391.00" stroke="#3f4f82" stroke-width="1.2"/>
<line x1="337.10" y1="467.50" x2="337.10" y2="469.70" stroke="#161616" stroke-width="1.1"/>
<text x="337.10" y="478.70" font-size="6.6" text-anchor="middle" fill="#231f20">Day 6</text>
<rect x="328.80" y="451.60" width="6.10" height="15.90" fill="#9bca87"/>
<line x1="331.85" y1="452.10" x2="331.85" y2="449.40" stroke="#4f7d3f" stroke-width="1.2"/>
<line x1="329.50" y1="449.40" x2="334.20" y2="449.40" stroke="#4f7d3f" stroke-width="1.2"/>
<rect x="339.30" y="454.00" width="6.10" height="13.50" fill="#7083b6"/>
<line x1="342.35" y1="454.50" x2="342.35" y2="451.30" stroke="#3f4f82" stroke-width="1.2"/>
<line x1="340.00" y1="451.30" x2="344.70" y2="451.30" stroke="#3f4f82" stroke-width="1.2"/>
<line x1="365.70" y1="467.50" x2="365.70" y2="469.70" stroke="#161616" stroke-width="1.1"/>
<text x="365.70" y="478.70" font-size="6.6" text-anchor="middle" fill="#231f20">Day 15</text>
<rect x="357.40" y="399.00" width="6.10" height="68.50" fill="#9bca87"/>
<line x1="360.45" y1="399.50" x2="360.45" y2="391.00" stroke="#4f7d3f" stroke-width="1.2"/>
<line x1="358.10" y1="391.00" x2="362.80" y2="391.00" stroke="#4f7d3f" stroke-width="1.2"/>
<rect x="367.90" y="426.50" width="6.10" height="41.00" fill="#7083b6"/>
<line x1="370.95" y1="427.00" x2="370.95" y2="422.50" stroke="#3f4f82" stroke-width="1.2"/>
<line x1="368.60" y1="422.50" x2="373.30" y2="422.50" stroke="#3f4f82" stroke-width="1.2"/>
<text x="337.00" y="376.80" font-size="8.6" text-anchor="middle" fill="#231f20" textLength="26.60" lengthAdjust="spacingAndGlyphs" font-style="italic">FOXO4</text>
<text x="364.80" y="387.00" font-size="5.8" text-anchor="middle" fill="#231f20"><tspan font-style="italic">P</tspan> = .0002</text>
<text transform="translate(20.8,424.8) rotate(-90)" font-size="6.3" text-anchor="middle" fill="#231f20">Normalized</text>
<text transform="translate(30.2,424.8) rotate(-90)" font-size="6.3" text-anchor="middle" fill="#231f20">transcript counts</text>
<rect x="396.20" y="405.40" width="6.10" height="6.10" fill="#9bca87"/>
<rect x="396.20" y="417.60" width="6.10" height="6.10" fill="#7083b6"/>
<text x="405.40" y="410.80" font-size="6.3" fill="#231f20">19/BB</text>
<text x="405.40" y="423.00" font-size="6.3" fill="#231f20">19/28</text>
<path d="M39.6 545 L45.0 540.3 L52.3 538 L60 537.5 L67.7 534.6 L74.5 532.7 L82.2 531.7 L88 530.3 L93.5 529.6 L100.8 529.9 L107 531.5 L111 533.6 L114.1 537.1 L116.5 541 L117.2 544.4 L117.4 549 L117.2 552.9 L116 556.5 L114.1 559 L111.1 561.4 L113.2 563.6 L115.3 566.3 L120.2 573.5 L123.2 580.8 L123.8 588.1 L121.4 595.4 L117.8 598.4 L111.7 599 L106 598 L101 597.5 L97 598.5 L94 601 L92.5 605 L90.5 608 L87 609.8 L83.1 610.2 L79.3 608.5 L76.4 605 L73.5 598.5 L71.6 594.6 L69.7 591.7 L66.8 590.8 L62 591.7 L57.2 592.7 L53.8 590.8 L51.4 587 L49.5 582.1 L47.5 578.3 L44.5 575.4 L41.2 571.5 L39.0 564.8 L38.6 556 L39.0 549 Z" fill="#f3c4c4"/>
<path d="M66.8 540.7h.01M76.3 533.9h.01M93.9 559.3h.01M49.2 563.1h.01M109.7 551.9h.01M78.7 542.1h.01M50.1 548.8h.01M62.9 562.9h.01M59.1 568.7h.01M57.0 541.6h.01M80.6 535.2h.01M68.5 550.2h.01M51.6 573.6h.01M108.3 596.7h.01M58.5 571.5h.01M64.2 548.2h.01M77.1 579.5h.01M77.0 534.1h.01M99.2 535.5h.01M78.0 556.5h.01M50.1 572.3h.01M72.8 570.6h.01M73.8 557.2h.01M39.4 550.2h.01M84.0 570.4h.01M98.6 547.3h.01M92.1 582.0h.01M116.2 568.8h.01M70.0 564.0h.01M60.4 550.3h.01M62.3 548.9h.01M79.7 577.3h.01M48.4 541.0h.01M50.0 549.2h.01M45.1 572.1h.01M67.5 542.2h.01M72.2 549.1h.01M47.8 567.9h.01M86.1 533.3h.01M65.9 575.6h.01M87.4 591.6h.01M65.3 563.3h.01M75.6 583.3h.01M43.7 570.3h.01M61.6 570.5h.01M48.9 572.6h.01M89.4 583.8h.01M42.8 572.6h.01M61.9 574.5h.01M41.7 562.7h.01M54.9 569.5h.01M41.2 545.3h.01M55.5 553.3h.01M52.4 548.8h.01M47.7 576.3h.01M40.1 563.2h.01M64.3 574.1h.01M60.8 563.8h.01M79.2 575.3h.01M70.5 567.9h.01M62.4 570.5h.01M115.2 573.8h.01M108.7 576.3h.01M74.5 536.6h.01M100.9 548.4h.01M121.9 588.2h.01M113.0 568.9h.01M70.6 576.3h.01M39.1 550.1h.01M46.3 574.5h.01M60.9 591.1h.01M83.5 540.5h.01M42.3 544.9h.01M61.1 575.4h.01M72.8 565.7h.01M97.2 553.1h.01M66.9 549.6h.01M68.3 539.8h.01M74.1 588.6h.01M70.6 541.7h.01M66.6 587.7h.01M84.0 587.0h.01M73.9 539.5h.01M59.7 556.1h.01M84.6 533.8h.01M62.1 567.2h.01M58.1 571.0h.01M77.2 543.5h.01M69.8 578.0h.01M73.5 575.2h.01M110.0 571.1h.01M75.2 541.1h.01M92.3 548.9h.01M64.0 575.2h.01M48.4 575.2h.01M105.8 552.1h.01M112.5 579.0h.01M110.3 551.6h.01M77.9 532.6h.01M122.4 581.6h.01M65.7 539.5h.01M59.8 571.3h.01M51.2 575.3h.01M90.5 566.7h.01M63.9 558.3h.01M48.4 569.1h.01M95.1 549.1h.01M82.0 541.2h.01M42.4 564.9h.01M92.3 596.1h.01M41.4 543.9h.01M74.8 572.5h.01M104.1 537.6h.01M120.5 588.6h.01M90.9 536.4h.01M55.6 565.5h.01M68.4 540.7h.01M62.7 549.6h.01M114.3 556.7h.01M57.3 555.4h.01M94.8 562.0h.01M101.3 555.6h.01M75.4 573.2h.01M62.9 572.0h.01M58.6 591.6h.01M44.2 570.2h.01M70.4 540.5h.01M67.5 568.8h.01M102.5 570.1h.01M42.7 570.7h.01M59.7 544.7h.01M42.7 560.0h.01M109.3 538.3h.01M83.8 566.0h.01M97.5 574.5h.01M109.3 536.5h.01M61.1 545.0h.01M76.3 581.7h.01M98.0 541.0h.01M76.0 585.0h.01M120.2 583.1h.01M106.7 553.1h.01M87.1 536.0h.01M58.7 591.0h.01M44.3 548.6h.01M78.7 605.4h.01M56.0 546.5h.01M84.7 607.5h.01M59.0 544.6h.01M110.0 562.1h.01M67.8 545.9h.01M95.8 595.8h.01M53.0 572.3h.01M78.1 596.0h.01M42.0 555.3h.01M53.7 554.2h.01M56.0 555.0h.01M48.3 549.9h.01M79.4 574.9h.01M74.5 570.2h.01M44.1 565.4h.01M108.6 573.1h.01M82.4 563.6h.01M80.1 539.2h.01M55.9 550.3h.01M53.1 581.1h.01M106.6 567.0h.01M56.7 548.4h.01M78.3 577.2h.01M43.6 567.5h.01M61.6 540.9h.01M107.8 534.5h.01M86.0 557.6h.01M62.6 549.0h.01M46.7 545.8h.01M54.2 564.8h.01M70.5 571.9h.01M57.8 560.3h.01M110.9 547.7h.01M76.7 537.7h.01M78.6 589.4h.01M80.4 543.1h.01M66.7 562.2h.01M61.2 566.1h.01M59.7 538.1h.01M51.8 539.5h.01M83.1 537.8h.01M92.7 567.6h.01M54.1 568.5h.01M67.8 571.9h.01M46.2 541.6h.01M65.6 554.5h.01M56.0 538.0h.01M72.3 568.6h.01M105.3 564.7h.01M68.4 543.8h.01M69.3 559.8h.01M50.5 573.3h.01M88.3 536.9h.01M56.3 553.3h.01M83.4 542.7h.01M77.1 535.3h.01M52.9 562.5h.01M55.6 554.5h.01M54.8 568.3h.01M67.6 560.5h.01M52.8 586.0h.01M47.8 551.2h.01M51.5 585.1h.01M80.1 535.3h.01M49.3 543.6h.01M53.4 539.5h.01M72.1 574.0h.01M111.9 582.4h.01M82.6 556.2h.01M76.3 583.5h.01M73.5 585.8h.01M80.6 538.7h.01M100.5 595.3h.01M57.3 566.0h.01M44.2 558.3h.01M62.2 568.9h.01M54.8 541.3h.01M76.8 561.4h.01M72.5 559.9h.01M42.1 555.3h.01M78.7 545.9h.01M70.7 564.3h.01M69.8 556.2h.01M70.8 537.6h.01M50.6 553.9h.01M109.7 582.8h.01M113.2 545.1h.01M49.4 541.4h.01M78.2 544.5h.01M79.6 570.6h.01M56.0 588.7h.01M71.4 576.6h.01M76.6 584.6h.01M98.4 540.9h.01M43.3 548.9h.01M106.8 588.7h.01M67.3 537.1h.01M56.6 582.0h.01M77.0 555.3h.01M68.0 538.8h.01M65.3 573.9h.01M70.7 543.1h.01M62.8 540.8h.01M40.7 559.5h.01M52.0 546.7h.01M46.8 544.3h.01M113.2 536.4h.01M55.1 564.7h.01M89.4 553.1h.01M48.9 570.7h.01M78.8 587.9h.01M57.2 556.3h.01M58.6 549.3h.01M47.8 556.0h.01M50.0 539.4h.01M59.5 553.6h.01M89.4 576.8h.01M41.5 566.6h.01M40.6 550.7h.01M86.1 606.0h.01M48.2 557.3h.01M46.2 548.7h.01M68.3 548.3h.01M47.9 570.2h.01M71.3 538.4h.01M107.8 589.4h.01M71.3 562.8h.01M93.5 558.7h.01M44.9 571.6h.01M64.9 547.5h.01M57.8 567.6h.01M68.5 536.1h.01M101.7 576.5h.01M103.6 540.4h.01M87.3 549.4h.01M67.4 555.0h.01M62.4 545.8h.01M91.3 536.3h.01M55.1 587.7h.01M115.6 544.8h.01M64.9 573.8h.01M50.3 562.7h.01M39.3 563.2h.01M78.5 582.4h.01M67.3 554.3h.01M49.2 545.7h.01M76.2 575.1h.01M79.0 555.2h.01M47.6 577.4h.01M67.2 578.9h.01M74.3 580.4h.01M49.7 575.1h.01M52.4 550.0h.01M56.8 542.9h.01M64.5 536.5h.01M94.3 585.3h.01M60.3 541.8h.01M48.5 542.6h.01M66.3 540.0h.01M106.7 576.1h.01M68.2 555.0h.01M74.3 574.8h.01M108.4 586.2h.01M65.5 578.6h.01M101.5 597.4h.01M58.1 546.6h.01M100.4 567.6h.01M60.9 558.8h.01M69.0 540.1h.01M114.8 542.7h.01M119.0 584.2h.01M92.3 573.5h.01M72.6 572.0h.01M108.6 594.3h.01M102.4 576.2h.01M61.7 570.8h.01M65.0 573.4h.01M61.4 548.5h.01M49.5 570.1h.01M49.1 554.8h.01M92.3 559.7h.01M54.9 539.4h.01M68.9 570.0h.01M52.0 568.3h.01M91.4 600.3h.01M50.8 571.0h.01M48.0 566.3h.01M69.5 588.2h.01M98.5 538.1h.01M43.5 550.1h.01M104.5 567.7h.01M48.8 546.7h.01M76.4 576.5h.01M97.5 577.2h.01M82.8 568.0h.01M42.1 565.9h.01M67.5 540.5h.01M105.4 553.7h.01M100.1 569.4h.01M106.0 582.4h.01M55.8 581.4h.01M106.2 552.4h.01M62.8 572.1h.01M51.6 549.9h.01M55.4 539.1h.01M64.1 566.4h.01M100.8 582.8h.01M51.5 574.0h.01M53.0 575.5h.01M81.0 600.1h.01M110.8 568.0h.01M85.4 601.4h.01M40.2 567.0h.01M85.7 557.7h.01M63.8 573.8h.01M71.3 567.8h.01M69.7 535.1h.01M68.8 590.0h.01M88.3 597.5h.01M56.7 567.3h.01M61.8 536.9h.01M68.2 538.7h.01M65.7 563.4h.01M115.6 551.7h.01M49.6 555.7h.01M117.7 591.3h.01M66.0 557.7h.01M95.2 574.1h.01M54.5 548.3h.01M97.8 544.6h.01M48.7 575.9h.01M80.9 592.5h.01M92.8 572.9h.01M75.7 583.2h.01M73.8 535.7h.01M43.1 543.1h.01M76.6 572.2h.01M46.2 571.9h.01M58.6 546.3h.01M69.3 572.0h.01M40.6 548.0h.01M68.1 536.7h.01M90.3 546.7h.01M84.0 547.1h.01M104.0 560.8h.01M62.2 552.0h.01M101.8 562.6h.01M58.8 582.6h.01M58.3 542.4h.01M107.3 555.0h.01M84.3 557.8h.01M57.7 569.9h.01M70.3 569.1h.01M116.0 578.1h.01M98.4 541.5h.01M78.3 544.9h.01M45.7 574.6h.01M60.7 570.4h.01M67.7 541.8h.01M50.7 542.7h.01M114.3 555.2h.01M101.6 583.0h.01M98.2 592.0h.01M120.4 584.0h.01M80.1 571.1h.01M55.9 554.7h.01M57.6 571.7h.01M62.9 555.6h.01M100.5 565.2h.01M73.8 546.9h.01M74.2 580.6h.01M67.8 567.2h.01M116.9 584.4h.01M110.8 567.3h.01M47.1 552.9h.01M39.9 562.0h.01M50.3 570.5h.01M95.4 597.5h.01M52.4 569.4h.01M80.3 587.2h.01M65.4 574.6h.01M68.6 544.1h.01M81.1 540.1h.01M51.1 563.5h.01M74.6 540.4h.01M52.8 568.4h.01M87.7 539.4h.01M64.9 544.2h.01M86.3 583.1h.01M72.7 592.7h.01M63.6 537.0h.01M61.6 544.1h.01M70.6 573.7h.01M54.9 545.9h.01M70.9 546.8h.01M43.4 562.5h.01M46.3 546.1h.01M42.3 567.6h.01M91.0 531.7h.01M72.8 535.2h.01M71.9 570.6h.01M50.0 548.3h.01M110.2 586.1h.01M105.9 589.9h.01M78.9 577.6h.01M57.5 567.5h.01M48.0 560.4h.01M58.4 540.8h.01M45.8 545.8h.01M61.5 537.2h.01M65.9 547.1h.01M111.2 555.7h.01M76.9 534.0h.01M62.7 552.3h.01M115.2 596.0h.01M112.4 543.6h.01M63.6 571.3h.01M78.2 574.2h.01M100.8 569.7h.01M97.5 538.8h.01M97.0 541.5h.01M54.8 568.7h.01M105.6 555.8h.01M55.6 562.9h.01M74.8 559.8h.01M63.6 560.9h.01M55.5 571.5h.01M62.6 591.5h.01M44.1 548.1h.01M66.3 551.6h.01M52.9 547.8h.01M99.3 572.6h.01M61.9 569.1h.01M69.4 539.0h.01M105.4 557.3h.01M40.6 549.3h.01M50.3 571.3h.01M61.5 559.7h.01M66.6 562.9h.01M59.6 550.4h.01" stroke="rgb(255, 248, 247)" stroke-width="1.6" stroke-linecap="round" fill="none"/>
<path d="M66.0 577.2h.01M75.0 559.0h.01M60.7 557.2h.01M63.0 549.8h.01M58.0 547.1h.01M60.4 551.3h.01M63.9 570.0h.01M94.3 531.7h.01M108.2 597.4h.01M81.5 560.1h.01M51.7 549.3h.01M77.7 539.7h.01M72.4 546.8h.01M68.1 563.3h.01M56.8 558.0h.01M41.6 562.5h.01M47.3 569.9h.01M74.8 580.1h.01M40.0 555.5h.01M73.0 574.2h.01M75.4 596.9h.01M76.0 535.7h.01M77.0 542.8h.01M69.5 536.9h.01M58.3 577.0h.01M79.8 539.3h.01M56.2 579.1h.01M54.0 554.0h.01M48.2 545.3h.01M56.6 554.8h.01M40.8 549.6h.01M53.6 564.9h.01M83.9 541.5h.01M76.4 544.5h.01M48.2 545.3h.01M75.2 547.2h.01M75.4 566.2h.01M63.2 548.6h.01M47.7 540.0h.01M84.6 590.3h.01M81.4 532.9h.01M93.7 530.4h.01M75.3 554.8h.01M72.3 577.7h.01M80.8 575.6h.01M73.2 538.1h.01M80.4 542.2h.01M75.3 581.1h.01M50.3 552.7h.01M79.9 593.9h.01M104.8 577.2h.01M64.2 560.8h.01M51.5 576.3h.01M56.6 563.8h.01M80.9 565.0h.01M93.7 531.6h.01M72.5 588.4h.01M55.4 551.8h.01M68.4 541.1h.01M47.0 550.7h.01M69.4 588.7h.01M56.0 553.5h.01M42.4 554.1h.01M69.8 562.6h.01M70.2 542.1h.01M77.1 575.3h.01M86.1 537.4h.01M84.6 549.1h.01M42.0 543.3h.01M77.3 575.8h.01M64.9 553.9h.01M89.2 534.7h.01M53.2 550.5h.01M52.4 540.0h.01M112.4 570.9h.01M44.0 543.0h.01M51.5 556.1h.01M62.6 550.0h.01M108.0 577.7h.01M64.4 545.7h.01M41.8 559.9h.01M84.3 552.4h.01M67.6 565.8h.01M83.1 536.2h.01M50.3 576.6h.01M49.1 569.7h.01M56.5 538.7h.01M74.0 535.4h.01M51.4 577.4h.01M72.8 595.7h.01M84.7 571.8h.01M54.1 557.8h.01M43.2 548.2h.01M84.7 582.6h.01M65.1 562.4h.01M63.5 560.0h.01M49.1 568.3h.01M58.8 565.0h.01M45.2 546.7h.01M84.1 548.1h.01M78.3 547.0h.01M43.9 547.7h.01M79.9 584.9h.01M56.8 562.4h.01M75.2 534.5h.01M58.8 550.3h.01M92.2 536.8h.01M66.6 542.5h.01M56.1 566.8h.01M80.6 563.0h.01M73.7 557.7h.01M72.7 540.8h.01M107.0 577.6h.01M44.0 550.2h.01M76.3 544.2h.01M87.2 540.0h.01M79.0 567.4h.01M70.6 574.5h.01M39.8 562.9h.01M60.0 541.0h.01M58.2 561.5h.01M113.6 564.9h.01M71.0 591.9h.01M43.7 559.9h.01M53.6 570.9h.01M50.5 568.6h.01M73.1 546.8h.01M74.4 570.8h.01M72.4 540.5h.01M56.5 565.0h.01M74.9 549.2h.01M79.9 554.2h.01M72.0 550.0h.01M71.3 569.3h.01M60.3 576.5h.01M67.3 541.1h.01M72.1 552.6h.01M74.6 557.5h.01M77.0 573.2h.01M63.0 565.4h.01M60.6 571.3h.01M70.6 538.0h.01M51.8 572.4h.01M76.7 578.0h.01M50.1 563.8h.01M67.6 561.2h.01M73.1 593.0h.01M83.2 568.0h.01M85.3 536.5h.01M114.8 554.7h.01M46.3 544.4h.01M52.1 572.6h.01M80.2 551.3h.01M45.6 575.9h.01M69.4 557.3h.01M62.6 571.6h.01M74.4 577.7h.01M53.0 561.8h.01M56.5 557.0h.01M39.5 549.7h.01M61.4 576.2h.01M57.0 572.9h.01M59.7 577.5h.01M73.0 563.5h.01M79.4 572.7h.01M69.3 554.8h.01M70.7 561.6h.01M89.1 533.6h.01M45.5 562.8h.01M61.2 540.7h.01M72.4 565.8h.01M57.6 538.9h.01M61.5 550.2h.01M89.0 548.0h.01M82.9 572.7h.01M79.3 571.5h.01M85.9 541.8h.01M68.4 540.1h.01M48.0 576.4h.01M75.2 588.0h.01M52.6 568.7h.01M60.9 562.5h.01M83.2 536.8h.01M64.8 564.4h.01M51.6 543.4h.01M54.7 540.1h.01M81.7 537.5h.01M56.7 540.8h.01M48.7 571.7h.01M53.6 555.0h.01M51.1 553.3h.01M61.3 577.5h.01M77.7 539.2h.01M44.4 568.2h.01M44.7 549.0h.01M68.3 542.9h.01M64.3 550.2h.01M55.2 542.6h.01M42.3 567.2h.01M70.1 571.6h.01M74.6 556.2h.01M58.0 554.2h.01M57.0 540.2h.01M48.8 553.2h.01M71.7 539.4h.01M81.7 536.8h.01M50.9 550.4h.01M49.5 548.4h.01M121.5 576.7h.01M76.6 565.9h.01M76.4 551.0h.01M54.0 568.7h.01M65.7 539.2h.01M75.8 565.2h.01M71.3 584.6h.01M72.6 589.0h.01M70.2 563.3h.01M71.8 569.9h.01M68.6 564.4h.01M58.0 547.4h.01M61.6 549.1h.01M73.5 542.0h.01M112.0 564.7h.01M65.6 557.6h.01M85.9 531.7h.01M79.8 536.3h.01M66.3 571.8h.01M78.7 572.4h.01M74.0 560.1h.01M73.7 563.0h.01M82.3 547.9h.01M58.9 560.6h.01M70.3 543.4h.01M47.2 574.5h.01M51.9 576.7h.01M63.2 558.6h.01M43.1 555.0h.01M79.5 543.7h.01M53.3 578.5h.01M57.2 551.8h.01M75.0 565.3h.01M75.2 597.8h.01M76.3 592.6h.01M87.0 536.7h.01M61.3 568.2h.01M57.2 549.8h.01M50.2 575.9h.01M77.5 542.1h.01M39.3 560.6h.01M72.1 588.2h.01M65.2 543.0h.01M91.0 592.3h.01M49.0 567.5h.01M53.4 572.1h.01M78.5 539.0h.01M63.8 570.7h.01M76.3 577.2h.01M44.4 559.8h.01M48.3 557.8h.01M54.3 551.4h.01M65.1 548.1h.01M41.4 545.9h.01M51.1 542.5h.01M48.6 560.9h.01M57.9 545.2h.01M64.8 568.6h.01M80.1 553.7h.01M91.4 542.6h.01M56.6 550.7h.01M69.1 553.0h.01M53.8 553.4h.01M43.7 568.4h.01" stroke="rgb(244, 199, 200)" stroke-width="1.6" stroke-linecap="round" fill="none"/>
<path d="M67.4 546.7h.01M82.1 572.7h.01M83.0 586.2h.01M50.1 563.5h.01M48.4 541.6h.01M76.2 569.6h.01M110.6 587.4h.01M78.5 541.2h.01M65.6 558.0h.01M82.2 544.9h.01M40.9 553.6h.01M107.6 590.9h.01M63.9 559.3h.01M77.8 591.2h.01M79.6 556.9h.01M46.8 548.1h.01M84.1 559.7h.01M44.3 551.3h.01M79.9 547.7h.01M51.6 561.1h.01M63.1 557.5h.01M45.8 544.6h.01M71.1 590.0h.01M60.3 548.6h.01M42.5 552.7h.01M57.7 559.0h.01M70.9 570.4h.01M54.7 546.3h.01M42.2 543.3h.01M86.7 576.7h.01M59.9 540.5h.01M67.9 591.0h.01M101.3 575.9h.01M81.2 569.3h.01M116.5 570.1h.01M76.0 576.2h.01M97.4 581.9h.01M43.9 551.0h.01M61.8 546.9h.01M111.1 544.6h.01M61.7 547.7h.01M81.8 573.3h.01M76.4 563.5h.01M108.4 592.9h.01M89.7 543.9h.01M80.1 552.0h.01M72.4 563.3h.01M63.8 548.4h.01M59.5 574.8h.01M74.9 593.8h.01M72.1 555.0h.01M83.5 585.6h.01M81.8 574.5h.01M74.4 538.2h.01M109.2 553.5h.01M60.2 579.1h.01M44.7 554.1h.01M76.4 585.5h.01M75.8 571.0h.01M44.2 551.6h.01M64.5 543.6h.01M66.5 559.0h.01M89.0 534.7h.01M88.3 537.5h.01M89.6 534.7h.01M70.6 548.4h.01M56.2 578.6h.01M55.2 573.1h.01M78.6 555.2h.01M76.3 547.4h.01M102.3 536.2h.01M97.7 535.6h.01M50.7 564.0h.01M69.4 569.7h.01M72.1 562.4h.01M93.1 590.4h.01M58.0 539.9h.01M83.8 548.0h.01M40.5 544.9h.01M71.6 572.2h.01M80.5 532.6h.01M43.4 553.6h.01M86.8 532.3h.01M81.8 584.6h.01M58.2 573.8h.01M53.1 542.3h.01M49.1 567.3h.01M70.6 544.6h.01M72.8 571.5h.01M88.8 547.6h.01M69.0 541.6h.01M51.0 571.3h.01M61.9 545.1h.01M86.2 591.3h.01M73.6 551.7h.01M117.4 594.8h.01M48.4 575.3h.01M57.4 577.2h.01M89.8 538.6h.01M112.1 564.2h.01M77.0 587.3h.01M66.9 536.0h.01M105.3 593.1h.01M70.1 539.9h.01M71.9 582.8h.01M76.8 539.8h.01M71.2 541.6h.01M40.5 552.3h.01M75.1 572.5h.01M116.2 575.9h.01M57.5 550.3h.01M97.1 541.5h.01M64.9 549.5h.01M59.7 549.7h.01M61.4 541.2h.01M45.1 541.8h.01M68.1 538.4h.01M60.9 567.4h.01M103.0 584.9h.01M76.2 588.3h.01M71.7 587.6h.01M62.7 563.3h.01M79.3 535.8h.01M66.8 568.3h.01M69.1 572.7h.01M120.4 574.3h.01M103.8 578.1h.01M76.4 560.8h.01M54.1 543.1h.01M41.9 564.9h.01M88.0 589.2h.01M94.8 536.2h.01M67.9 541.8h.01M41.5 545.2h.01M86.6 545.3h.01M43.2 563.8h.01M101.4 574.3h.01M75.3 547.9h.01M80.1 560.6h.01M46.1 555.9h.01M65.5 571.0h.01M87.7 544.5h.01M80.5 556.3h.01M58.1 551.3h.01M117.2 547.6h.01M74.8 558.5h.01M59.9 577.3h.01M84.8 555.5h.01M79.6 544.6h.01M91.7 542.4h.01M106.1 576.0h.01M77.1 597.7h.01M81.1 549.0h.01M78.7 576.3h.01M49.5 571.9h.01M63.0 537.2h.01M48.4 553.3h.01M42.7 544.1h.01M73.3 544.1h.01M105.9 565.4h.01M45.5 566.0h.01M75.4 598.3h.01M83.4 560.4h.01M82.6 540.0h.01M119.8 596.1h.01M100.4 593.9h.01M77.7 575.6h.01M52.5 564.3h.01M55.0 543.2h.01M40.1 565.3h.01M105.6 588.8h.01M110.7 557.4h.01M57.1 540.3h.01M95.4 577.5h.01M66.9 564.9h.01M55.5 539.1h.01M76.2 533.8h.01M49.9 560.3h.01M84.5 574.5h.01M49.6 557.0h.01M79.1 579.8h.01M61.7 575.1h.01M59.4 577.4h.01M66.9 554.5h.01M74.9 537.4h.01M74.7 592.8h.01M44.2 564.5h.01M47.4 554.2h.01M39.2 547.6h.01M53.8 557.1h.01M59.8 540.3h.01M122.5 591.8h.01M45.1 542.4h.01M71.1 582.0h.01M113.3 538.4h.01M82.7 554.4h.01M69.4 544.6h.01M83.9 543.4h.01M69.8 585.7h.01M96.5 543.0h.01M46.9 558.6h.01M111.3 559.8h.01M108.0 566.2h.01M103.4 595.8h.01M72.7 563.2h.01M83.5 531.5h.01M63.3 567.3h.01M73.9 588.6h.01M80.0 568.1h.01M56.7 547.5h.01M93.3 537.5h.01M57.6 549.9h.01M49.8 558.3h.01M84.8 551.3h.01M63.4 563.6h.01M111.7 538.5h.01M73.3 570.5h.01M55.6 542.7h.01M75.0 567.3h.01M50.3 566.6h.01M100.5 576.9h.01M81.3 570.0h.01M83.6 542.1h.01M56.8 549.4h.01M97.9 593.2h.01M82.7 573.2h.01M85.4 575.7h.01M68.4 578.9h.01M84.2 568.7h.01M43.7 550.7h.01M51.1 542.0h.01M75.2 537.9h.01M71.8 578.2h.01M81.4 582.0h.01M69.7 576.3h.01M62.0 572.4h.01M71.1 581.8h.01M63.4 576.6h.01M72.9 544.4h.01M114.0 555.0h.01M85.8 536.9h.01M108.1 596.2h.01M79.7 597.3h.01M53.3 566.3h.01M96.8 538.9h.01M54.5 566.8h.01M78.4 577.3h.01M53.7 552.4h.01M75.9 578.4h.01M39.2 561.7h.01M63.9 542.4h.01M44.9 558.1h.01M93.9 531.4h.01M98.0 537.5h.01M104.6 572.3h.01M88.3 546.7h.01M99.2 586.7h.01M64.5 565.7h.01M70.5 552.8h.01M70.8 573.5h.01M70.7 550.4h.01M47.1 550.0h.01M65.8 548.6h.01M69.2 577.2h.01M51.8 577.9h.01M69.2 561.3h.01M58.2 563.8h.01M79.4 580.0h.01M58.5 565.9h.01M86.6 542.3h.01M39.2 552.1h.01M84.5 577.2h.01M75.7 564.3h.01M53.1 549.5h.01M82.3 590.7h.01M40.0 548.5h.01M89.4 535.5h.01M63.5 553.7h.01M43.5 569.6h.01M52.1 543.9h.01M80.0 542.6h.01M70.5 588.6h.01M62.5 543.9h.01M71.5 586.6h.01M107.7 535.4h.01M44.6 559.2h.01M63.6 576.6h.01M66.8 578.2h.01M46.1 561.4h.01M62.0 541.7h.01M75.7 585.4h.01M60.7 568.6h.01M74.7 548.0h.01M101.5 575.6h.01M55.9 556.6h.01M71.8 544.9h.01M77.8 593.7h.01M69.3 578.5h.01M42.3 546.8h.01M75.2 562.1h.01M62.4 548.9h.01M67.4 536.6h.01M85.0 551.9h.01M77.4 558.9h.01M59.1 553.5h.01M76.5 594.6h.01M71.9 566.7h.01M71.7 565.9h.01M56.5 548.0h.01M74.9 548.0h.01M52.4 540.0h.01" stroke="rgb(239, 179, 181)" stroke-width="1.6" stroke-linecap="round" fill="none"/>
<path d="M52.1 569.1h.01M98.8 577.9h.01M96.1 533.1h.01M77.6 574.2h.01M52.0 542.8h.01M121.0 586.0h.01M80.2 582.9h.01M106.9 555.9h.01M123.3 583.2h.01M61.3 563.2h.01M78.4 577.0h.01M101.4 574.7h.01M48.0 550.3h.01M50.4 558.3h.01M77.7 550.6h.01M77.8 553.4h.01M78.3 574.3h.01M55.1 546.8h.01M103.2 530.7h.01M68.2 550.9h.01M67.1 561.3h.01M82.6 547.4h.01M113.5 565.7h.01M92.3 597.3h.01M106.6 546.7h.01M111.1 537.9h.01M104.7 593.5h.01M93.7 534.9h.01M51.8 579.7h.01M79.0 590.3h.01M40.3 549.9h.01M99.0 594.1h.01M78.6 572.6h.01M103.8 582.3h.01M47.7 560.3h.01M95.3 593.4h.01M72.7 545.8h.01M91.3 593.6h.01M82.9 568.7h.01M95.3 594.5h.01M109.7 594.1h.01M97.8 538.2h.01M105.6 587.9h.01M101.8 535.1h.01M99.5 597.5h.01M61.0 557.6h.01M100.0 582.3h.01M80.1 580.8h.01M74.4 541.1h.01M57.8 576.0h.01M81.6 551.0h.01M81.6 571.1h.01M82.1 551.5h.01M88.3 590.7h.01M120.0 593.3h.01M94.7 538.1h.01M79.3 554.1h.01M83.0 570.4h.01M80.7 594.6h.01M110.9 595.6h.01M58.5 566.0h.01M114.0 538.3h.01M63.3 561.9h.01M113.1 539.1h.01M69.3 580.8h.01M48.7 555.3h.01M75.2 556.4h.01M90.1 545.9h.01M107.9 543.6h.01M91.5 534.4h.01M89.7 531.7h.01M69.0 539.4h.01M86.7 583.2h.01M79.9 583.1h.01M104.3 582.0h.01M114.9 545.6h.01M41.8 547.7h.01M98.3 531.2h.01M66.9 582.3h.01M66.7 580.8h.01M58.2 579.5h.01M78.6 581.8h.01M112.9 544.9h.01M74.1 582.4h.01M122.5 587.8h.01M74.9 577.1h.01M85.2 559.4h.01M84.8 562.4h.01M52.0 556.9h.01M72.7 593.8h.01M95.1 598.2h.01M75.0 578.8h.01M94.8 595.6h.01M77.7 598.3h.01M103.7 551.1h.01M74.5 595.9h.01M96.4 576.5h.01M93.1 539.7h.01M89.6 547.0h.01M78.1 556.7h.01M76.7 544.6h.01M44.4 545.3h.01M76.6 589.5h.01M79.6 539.9h.01M90.5 533.3h.01M85.9 552.4h.01M94.9 545.4h.01M51.7 578.9h.01M98.6 578.3h.01M40.8 547.4h.01M103.8 548.9h.01M57.0 549.8h.01M108.0 584.3h.01M78.0 554.7h.01M85.2 547.7h.01M54.6 547.1h.01M80.0 571.0h.01M89.4 566.0h.01M116.4 547.5h.01M120.0 576.5h.01M114.3 577.5h.01M68.4 569.3h.01M72.1 588.2h.01M105.3 597.5h.01M83.8 558.5h.01M79.1 580.0h.01M121.3 578.7h.01M79.0 588.1h.01M109.0 556.5h.01M118.1 595.6h.01M86.1 566.3h.01M96.2 545.5h.01M113.7 558.4h.01M119.2 575.0h.01M93.3 595.5h.01M89.4 588.5h.01M56.0 577.7h.01M73.5 564.3h.01M71.4 550.6h.01M113.9 565.1h.01M105.3 581.0h.01M51.2 541.3h.01M102.9 588.2h.01M82.2 569.0h.01M109.0 567.8h.01M89.1 588.7h.01M48.9 560.0h.01M82.3 563.2h.01M99.5 593.6h.01M82.9 559.5h.01M71.2 538.0h.01M70.0 561.8h.01M110.4 585.8h.01M118.6 574.4h.01M68.9 589.5h.01M86.5 578.5h.01M79.9 573.2h.01M104.1 562.6h.01M76.9 564.7h.01M74.1 583.5h.01M45.9 559.0h.01M76.4 547.2h.01M116.2 548.0h.01M71.2 586.5h.01M88.3 593.5h.01M108.9 575.6h.01M82.5 555.1h.01M107.8 548.0h.01M88.9 538.2h.01M97.8 585.5h.01M109.5 559.4h.01M89.8 573.6h.01M81.4 565.5h.01M87.4 545.4h.01M96.4 585.9h.01M42.8 568.9h.01M93.9 536.4h.01M86.3 591.5h.01M102.0 584.2h.01M85.0 578.2h.01M77.4 553.6h.01M107.4 536.1h.01M57.7 592.3h.01M112.0 593.0h.01M90.7 536.4h.01M81.4 569.3h.01M75.1 550.4h.01M101.7 545.3h.01M101.2 590.6h.01M48.8 577.9h.01M89.4 551.2h.01M84.2 585.3h.01M104.5 586.2h.01M113.1 591.8h.01M52.4 572.3h.01M106.3 585.2h.01M112.1 540.5h.01M84.4 553.2h.01M112.4 596.6h.01M67.3 553.6h.01M112.0 544.7h.01M88.4 540.3h.01M79.6 567.7h.01M80.0 590.6h.01M84.2 581.1h.01M60.5 554.9h.01M64.7 579.2h.01M110.3 571.4h.01M103.0 587.0h.01M72.9 550.6h.01M94.1 581.5h.01M90.7 534.8h.01M85.2 554.0h.01M50.9 570.5h.01M83.4 573.3h.01M93.9 543.2h.01M109.6 567.3h.01M57.7 549.5h.01M44.5 574.8h.01M85.7 591.6h.01M84.8 581.0h.01M75.0 561.8h.01M84.9 551.6h.01M91.3 583.2h.01M113.3 559.3h.01M83.1 549.2h.01M109.7 585.0h.01M103.8 584.9h.01M98.3 537.4h.01M46.9 573.3h.01M112.8 543.7h.01M77.6 553.4h.01M77.2 547.6h.01M111.9 570.6h.01M92.5 534.1h.01M115.1 553.6h.01M102.2 584.3h.01M71.0 565.8h.01M106.7 576.8h.01M50.6 548.2h.01M106.6 593.2h.01M78.2 573.2h.01M79.7 585.3h.01M106.0 571.3h.01M89.2 576.7h.01M97.5 538.0h.01M69.1 567.0h.01M103.3 596.2h.01M118.6 582.6h.01M103.0 593.6h.01M75.0 584.1h.01M108.9 589.9h.01M94.7 593.2h.01M121.6 584.5h.01M84.2 575.3h.01M43.4 568.6h.01M118.6 591.3h.01M60.2 556.3h.01M109.9 565.5h.01M94.3 539.1h.01M70.4 546.6h.01M108.1 569.5h.01M76.3 578.8h.01M116.0 572.1h.01M102.8 591.0h.01M86.4 576.7h.01M111.6 554.1h.01M89.2 570.9h.01M111.0 553.3h.01M64.9 568.9h.01M115.6 540.4h.01M95.0 537.8h.01M109.8 598.6h.01M98.9 535.0h.01M94.3 544.7h.01M77.8 532.4h.01M73.0 595.0h.01M90.5 591.3h.01M66.9 586.0h.01M68.5 586.1h.01M58.5 590.8h.01M92.9 534.8h.01M72.6 556.9h.01M113.6 558.8h.01M63.9 545.9h.01M84.9 557.6h.01M89.8 548.2h.01M70.3 555.3h.01M111.3 572.0h.01M104.6 589.1h.01M50.2 582.6h.01M57.9 579.1h.01M52.3 547.3h.01M65.2 578.8h.01M114.9 552.0h.01M122.6 588.6h.01M68.1 582.6h.01M84.3 574.1h.01M86.1 596.4h.01M74.7 576.1h.01M97.5 538.2h.01M96.1 578.4h.01M65.3 569.5h.01M50.3 582.3h.01M96.2 532.8h.01M69.7 583.4h.01M98.0 570.4h.01M104.3 583.5h.01M108.0 578.2h.01M85.4 584.5h.01M87.9 586.4h.01M83.3 565.8h.01M103.5 594.3h.01M91.2 575.4h.01M109.4 552.5h.01M88.9 548.7h.01M83.1 571.3h.01M108.9 549.5h.01M68.4 540.5h.01M93.3 535.0h.01M116.0 540.2h.01M89.1 556.0h.01M100.1 576.8h.01M111.2 581.3h.01M67.9 580.6h.01M112.7 559.5h.01M75.0 596.1h.01M111.3 580.1h.01M107.6 566.2h.01M80.4 563.6h.01M106.2 593.1h.01M83.1 544.5h.01M73.9 595.5h.01M93.7 588.7h.01M76.5 562.7h.01M104.3 573.3h.01M45.1 567.8h.01" stroke="rgb(235, 160, 163)" stroke-width="1.6" stroke-linecap="round" fill="none"/>
<path d="M75.5 597.5h.01M112.8 552.3h.01M107.6 561.0h.01M117.2 593.7h.01M110.6 541.6h.01M83.3 556.5h.01M67.5 580.4h.01M102.0 574.3h.01M89.4 572.5h.01M97.1 552.4h.01M78.5 596.9h.01M110.8 552.0h.01M108.8 581.0h.01M119.9 574.1h.01M116.9 569.8h.01M101.1 582.4h.01M121.6 587.2h.01M102.6 570.4h.01M104.9 531.4h.01M102.5 597.1h.01M96.1 538.2h.01M48.1 578.1h.01M56.0 538.6h.01M83.5 560.2h.01M102.0 596.5h.01M116.1 551.1h.01M88.7 558.3h.01M60.8 581.7h.01M87.4 557.4h.01M102.1 548.9h.01M106.8 572.0h.01M79.4 598.5h.01M107.0 586.2h.01M65.9 580.8h.01M94.0 597.6h.01M69.4 581.7h.01M110.7 557.8h.01M110.1 552.6h.01M117.2 579.4h.01M90.3 585.2h.01M109.3 534.7h.01M75.9 602.6h.01M110.7 596.2h.01M106.7 541.1h.01M115.4 539.7h.01M111.4 580.8h.01M111.2 556.1h.01M110.6 572.2h.01M83.7 565.4h.01M43.6 571.5h.01M94.2 550.3h.01M118.5 580.2h.01M83.7 564.4h.01M109.6 571.5h.01M84.2 536.3h.01M116.7 576.9h.01M77.7 560.4h.01M84.9 560.4h.01M110.0 557.5h.01M87.8 554.1h.01M112.2 555.0h.01M102.1 587.9h.01M88.0 588.2h.01M103.5 535.2h.01M108.3 549.9h.01M103.5 535.1h.01M110.4 590.4h.01M106.7 563.7h.01M96.3 597.4h.01M66.8 566.7h.01M97.2 579.2h.01M80.3 582.4h.01M110.4 560.9h.01M97.5 597.4h.01M118.6 584.7h.01M85.3 585.9h.01M119.7 585.2h.01M94.7 544.5h.01M90.4 549.6h.01M113.8 550.5h.01M114.6 538.1h.01M101.9 550.9h.01M114.2 588.3h.01M111.5 593.9h.01M84.4 596.3h.01M98.8 565.7h.01M107.1 579.9h.01M70.6 587.9h.01M86.8 570.9h.01M107.5 552.5h.01M90.3 543.1h.01M95.7 549.6h.01M110.9 552.7h.01M89.1 554.8h.01M111.7 547.1h.01M114.1 568.3h.01M108.0 577.6h.01M110.8 585.4h.01M77.5 591.1h.01M103.3 581.9h.01M104.6 552.5h.01M100.0 586.0h.01M110.0 594.7h.01M64.6 560.2h.01M116.3 590.4h.01M99.5 579.4h.01M109.9 550.9h.01M108.0 558.2h.01M110.2 537.3h.01M93.2 588.9h.01M118.1 588.7h.01M57.0 549.2h.01M115.1 568.7h.01M108.4 541.7h.01M86.8 597.0h.01M108.8 566.5h.01M112.0 536.5h.01M95.4 578.2h.01M95.7 577.3h.01M92.4 546.2h.01M105.0 538.7h.01M99.9 595.5h.01M83.2 540.7h.01M96.5 546.6h.01M112.0 596.8h.01M74.3 581.4h.01M101.6 591.4h.01M65.6 581.1h.01M102.1 554.2h.01M109.6 594.3h.01M100.2 587.7h.01M112.1 589.2h.01M86.7 583.7h.01M106.6 549.9h.01M107.6 562.8h.01M61.6 579.3h.01M101.1 546.0h.01M88.2 595.9h.01M78.2 600.5h.01M102.7 539.0h.01M97.8 574.5h.01M89.7 541.6h.01M91.0 553.2h.01M110.6 536.5h.01M83.3 555.2h.01M92.6 582.9h.01M104.8 546.7h.01M95.3 584.8h.01M108.2 547.3h.01M108.7 550.6h.01M107.8 536.8h.01M96.0 583.8h.01M71.2 589.6h.01M113.1 540.1h.01M82.8 570.1h.01M114.3 558.0h.01M106.6 585.0h.01M88.0 573.2h.01M106.2 553.7h.01M72.8 554.2h.01M110.5 568.0h.01M110.6 561.0h.01M98.6 577.4h.01M109.0 579.4h.01M61.3 579.8h.01M79.9 582.6h.01M79.0 598.5h.01M76.5 559.9h.01M89.1 570.3h.01M100.1 596.0h.01M107.2 581.1h.01M112.1 593.5h.01M92.6 568.2h.01M87.8 551.2h.01M79.1 596.5h.01M103.7 535.7h.01M102.6 546.0h.01M57.4 591.2h.01M90.2 582.9h.01M87.3 544.0h.01M64.7 588.7h.01M72.4 592.7h.01M99.3 548.0h.01M99.6 589.1h.01M90.2 593.1h.01M115.8 598.3h.01M101.9 533.8h.01M65.3 579.9h.01M86.3 555.5h.01M95.2 537.5h.01M76.0 548.3h.01M106.2 538.8h.01M118.2 592.3h.01M114.3 555.1h.01M69.4 586.2h.01M115.1 595.3h.01M97.9 565.9h.01M116.2 588.0h.01M64.8 589.7h.01M100.3 539.1h.01M103.9 578.3h.01M98.7 537.0h.01M93.2 590.0h.01M76.5 582.8h.01M102.3 586.8h.01M68.3 557.3h.01M112.7 538.1h.01M103.6 547.0h.01M95.4 535.4h.01M89.9 572.5h.01M105.2 573.2h.01M81.4 594.9h.01M58.1 550.8h.01M114.0 541.8h.01M116.1 575.2h.01M91.8 592.8h.01M86.0 558.0h.01M104.8 570.0h.01M93.3 530.1h.01M90.3 582.8h.01M105.1 534.3h.01M67.1 583.6h.01M112.2 575.7h.01M95.0 578.8h.01M121.3 592.0h.01M120.8 582.3h.01M82.6 595.1h.01M88.7 549.1h.01M114.1 579.7h.01M86.9 563.3h.01M89.0 546.4h.01M115.9 597.3h.01M85.4 566.8h.01M70.1 583.6h.01M65.6 590.6h.01M104.8 551.3h.01M111.1 541.5h.01M85.9 588.0h.01M102.2 550.6h.01M98.0 567.1h.01M111.8 586.6h.01M97.3 544.1h.01M107.3 554.5h.01M93.2 586.0h.01M82.8 585.8h.01M50.3 582.9h.01M85.8 595.1h.01M99.5 541.0h.01M88.9 578.2h.01M107.4 537.8h.01M99.8 578.7h.01M76.1 598.5h.01M115.1 553.0h.01M72.2 576.0h.01M80.6 591.8h.01M75.3 595.4h.01M96.9 584.5h.01M101.2 588.4h.01M92.6 562.6h.01M96.5 533.5h.01M109.3 587.2h.01M108.9 565.6h.01M112.5 574.7h.01M112.0 559.9h.01M53.5 581.9h.01M80.8 570.3h.01M77.4 573.0h.01M95.7 544.5h.01M86.2 579.7h.01M111.4 566.2h.01M86.7 578.1h.01M102.5 593.7h.01M115.1 593.7h.01M97.8 535.2h.01M79.1 594.2h.01M88.4 580.4h.01M87.7 556.7h.01M94.1 582.5h.01M115.5 597.8h.01M103.1 596.4h.01M112.2 581.1h.01M79.2 588.1h.01M116.0 555.9h.01M99.5 583.9h.01M83.0 566.2h.01M120.8 592.0h.01M76.9 590.2h.01M103.4 571.1h.01M105.6 549.4h.01M58.9 581.3h.01M96.5 546.0h.01M109.9 596.7h.01M104.5 564.7h.01M110.5 563.4h.01M87.1 550.8h.01M85.5 592.9h.01M116.7 551.0h.01M76.9 558.9h.01M62.1 580.1h.01M91.4 589.8h.01M73.0 568.4h.01M118.0 595.0h.01M110.7 595.7h.01M105.4 564.5h.01M94.1 553.1h.01M106.1 563.9h.01M92.7 556.7h.01M68.6 583.9h.01M113.2 551.4h.01M106.4 547.0h.01M108.8 585.0h.01M86.7 543.8h.01M112.2 588.3h.01M94.2 539.6h.01M98.3 534.2h.01M84.1 557.3h.01M111.3 577.5h.01M98.0 534.5h.01M86.5 580.0h.01M81.6 551.2h.01M95.2 581.2h.01M103.2 581.3h.01M111.8 560.5h.01M77.0 598.7h.01M111.9 583.2h.01M103.0 533.1h.01M91.0 539.8h.01M75.3 588.7h.01M85.3 596.1h.01M89.8 581.0h.01M113.0 569.5h.01M111.5 555.9h.01M88.3 587.7h.01M84.9 545.5h.01M97.0 532.1h.01" stroke="rgb(231, 140, 144)" stroke-width="1.6" stroke-linecap="round" fill="none"/>
<path d="M120.5 576.5h.01M109.2 543.2h.01M99.1 548.5h.01M114.2 579.6h.01M113.2 586.5h.01M105.4 572.7h.01M101.3 542.3h.01M108.4 540.3h.01M76.3 601.2h.01M107.7 542.5h.01M120.0 586.7h.01M102.7 549.5h.01M113.9 584.3h.01M115.7 580.7h.01M89.0 539.9h.01M109.5 570.7h.01M86.9 561.1h.01M93.1 600.5h.01M109.5 547.4h.01M109.7 564.3h.01M61.1 590.8h.01M100.6 554.6h.01M117.8 581.3h.01M91.2 555.5h.01M90.6 582.7h.01M86.4 581.8h.01M81.2 595.6h.01M92.2 569.1h.01M117.1 581.0h.01M108.8 581.3h.01M93.3 552.1h.01M99.6 573.2h.01M109.5 542.3h.01M78.7 602.4h.01M101.7 536.6h.01M100.3 580.9h.01M89.4 581.3h.01M91.3 583.3h.01M117.6 583.1h.01M107.6 558.5h.01M93.2 563.1h.01M106.5 575.6h.01M116.1 595.8h.01M88.2 551.0h.01M97.3 567.1h.01M86.9 601.1h.01M100.4 574.5h.01M100.2 544.5h.01M91.7 587.5h.01M108.7 556.2h.01M80.0 601.2h.01M117.5 596.5h.01M93.5 596.0h.01M91.5 575.9h.01M113.9 565.0h.01M102.2 537.2h.01M121.5 590.0h.01M97.1 579.8h.01M91.2 559.9h.01M87.6 569.8h.01M84.6 596.5h.01M104.3 537.0h.01M109.8 579.5h.01M105.3 555.1h.01M105.4 560.3h.01M96.1 557.5h.01M107.1 545.7h.01M119.0 586.1h.01M94.4 580.7h.01M87.8 580.8h.01M113.3 574.2h.01M105.6 539.5h.01M96.7 550.9h.01M87.9 572.4h.01M87.2 592.8h.01M93.6 558.5h.01M82.8 581.4h.01M86.4 562.1h.01M92.9 556.1h.01M105.7 554.0h.01M120.3 580.7h.01M95.2 573.7h.01M100.2 561.1h.01M78.7 598.5h.01M109.9 584.3h.01M103.8 575.4h.01M103.5 569.7h.01M113.3 578.2h.01M92.2 586.1h.01M103.6 581.5h.01M110.0 593.9h.01M95.9 581.1h.01M83.9 584.8h.01M105.3 531.5h.01M122.2 581.2h.01M111.7 594.2h.01M93.1 556.6h.01M93.2 550.2h.01M108.2 566.2h.01M105.9 567.6h.01M115.5 572.9h.01M96.9 588.0h.01M72.7 594.2h.01M93.5 590.3h.01M91.5 582.5h.01M102.0 594.9h.01M117.6 585.9h.01M70.3 588.7h.01M113.4 545.8h.01M95.6 577.2h.01M98.5 549.5h.01M97.3 534.2h.01M101.4 550.9h.01M92.7 586.5h.01M118.9 575.1h.01M107.6 595.4h.01M96.1 575.5h.01M84.9 588.9h.01M64.0 581.7h.01M110.6 542.2h.01M104.7 578.9h.01M109.6 557.0h.01M107.5 547.1h.01M98.8 538.5h.01M86.0 570.0h.01M103.4 547.9h.01M107.5 584.9h.01M86.2 561.8h.01M117.5 573.3h.01M108.3 540.3h.01M99.9 580.9h.01M91.4 584.5h.01M69.2 589.9h.01M72.0 586.0h.01M98.2 554.7h.01M93.5 573.6h.01M96.5 585.5h.01M103.2 550.7h.01M89.6 595.3h.01M117.2 594.0h.01M109.4 568.5h.01M103.9 589.6h.01M102.4 569.0h.01M90.8 570.8h.01M106.9 566.4h.01M97.7 584.8h.01M63.2 590.6h.01M92.9 581.1h.01M64.8 587.9h.01M111.6 584.2h.01M107.8 578.2h.01M110.0 536.2h.01M95.8 553.8h.01M101.2 554.7h.01M74.3 591.1h.01M108.1 567.6h.01M112.9 584.9h.01M101.9 531.6h.01M114.6 586.6h.01M107.5 567.5h.01M101.8 538.2h.01M106.8 586.6h.01M84.4 597.1h.01M86.5 561.9h.01M110.5 566.7h.01M94.8 531.8h.01M111.1 574.9h.01M101.8 584.3h.01M92.9 566.0h.01M86.9 555.6h.01M96.9 581.0h.01M99.4 571.7h.01M101.9 579.7h.01M93.8 577.2h.01M87.9 564.9h.01M88.5 608.9h.01M114.2 576.2h.01M118.3 588.8h.01M92.7 600.1h.01M97.4 556.3h.01M118.5 574.6h.01M94.5 595.8h.01M92.4 568.5h.01M95.2 541.3h.01M87.3 590.1h.01M110.0 594.4h.01M100.6 574.0h.01M86.7 555.4h.01M109.4 545.1h.01M59.0 581.3h.01M88.8 557.2h.01M64.4 585.4h.01M114.9 546.9h.01M117.2 579.0h.01M108.7 533.3h.01M104.5 541.6h.01M116.0 575.5h.01M101.2 570.5h.01M111.5 582.7h.01M51.6 583.9h.01M108.1 554.9h.01M104.9 542.8h.01M111.1 591.3h.01M106.9 552.0h.01M101.2 570.6h.01M91.4 582.9h.01M104.0 575.9h.01M101.5 584.0h.01M119.6 574.9h.01M83.6 593.0h.01M66.1 584.2h.01M92.2 590.8h.01M83.5 591.0h.01M88.7 559.3h.01M92.4 558.7h.01M104.5 568.1h.01M102.6 553.3h.01M87.1 581.9h.01M96.6 540.6h.01M117.2 591.3h.01M106.9 543.8h.01M55.1 582.3h.01M114.2 594.5h.01M107.9 588.6h.01M101.0 569.5h.01M98.0 567.5h.01M94.9 591.6h.01M90.2 551.8h.01M92.2 548.5h.01M87.5 590.6h.01M112.1 539.4h.01M71.5 584.5h.01M114.8 591.0h.01M103.3 570.4h.01M61.0 588.3h.01M84.6 557.0h.01M79.1 595.5h.01M97.7 549.9h.01M103.6 554.6h.01M96.3 539.6h.01M115.1 579.1h.01M119.0 577.7h.01M90.6 598.5h.01M115.5 577.3h.01M57.7 579.8h.01M92.9 566.6h.01M116.8 595.2h.01M117.1 569.1h.01M96.3 565.6h.01M60.4 584.7h.01M96.6 563.4h.01M61.7 581.8h.01M104.9 536.6h.01M102.1 540.5h.01M102.4 578.4h.01M111.8 582.5h.01M62.7 580.0h.01M121.1 590.0h.01M91.7 582.3h.01M56.9 590.6h.01M112.9 563.3h.01M100.6 578.5h.01M103.9 565.2h.01M53.8 590.8h.01M104.7 545.7h.01M94.1 530.7h.01M115.6 578.2h.01M100.7 595.8h.01M77.0 585.5h.01M109.7 585.1h.01M96.2 593.4h.01M115.5 579.6h.01" stroke="rgb(227, 120, 125)" stroke-width="1.6" stroke-linecap="round" fill="none"/>
<path d="M94.9 572.2h.01M106.4 536.9h.01M52.3 588.2h.01M109.4 549.7h.01M107.9 535.0h.01M93.0 580.6h.01M61.8 589.3h.01M62.1 584.4h.01M118.1 582.2h.01M79.9 608.4h.01M98.8 562.4h.01M69.2 591.5h.01M116.0 542.2h.01M106.3 561.8h.01M106.3 588.1h.01M103.2 555.5h.01M57.2 580.3h.01M93.5 586.5h.01M111.5 583.6h.01M57.1 585.5h.01M93.8 583.4h.01M116.9 593.9h.01M120.9 583.1h.01M92.8 556.4h.01M96.4 566.5h.01M110.5 578.5h.01M56.2 591.0h.01M99.1 544.4h.01M113.8 588.2h.01M56.3 587.7h.01M90.9 557.7h.01M89.4 584.1h.01M99.8 549.9h.01M95.8 559.2h.01M63.9 585.7h.01M97.4 561.0h.01M88.6 560.6h.01M75.8 600.9h.01M105.9 548.4h.01M88.0 541.2h.01M52.9 585.4h.01M51.9 585.1h.01M116.5 591.6h.01M79.7 602.8h.01M107.0 575.9h.01M106.6 535.8h.01M117.1 585.6h.01M109.8 543.5h.01M91.5 603.1h.01M63.8 580.9h.01M52.0 584.4h.01M107.2 545.6h.01M104.1 536.7h.01M123.4 582.9h.01M107.3 572.7h.01M98.1 551.0h.01M94.2 567.6h.01M95.2 571.2h.01M91.0 582.7h.01M94.7 543.1h.01M105.2 559.2h.01M113.8 546.0h.01M58.1 590.6h.01M107.4 543.4h.01M104.9 548.6h.01M88.5 565.9h.01M118.9 579.7h.01M112.5 565.3h.01M97.7 590.6h.01M89.7 597.2h.01M87.2 562.7h.01M96.6 569.6h.01M113.4 581.5h.01M97.0 579.3h.01M111.4 574.1h.01M91.6 530.8h.01M107.4 551.6h.01M62.7 581.4h.01M107.7 549.3h.01M94.7 559.2h.01M77.2 604.9h.01M102.8 536.2h.01M107.9 569.6h.01M108.6 574.9h.01M94.9 561.8h.01M102.9 588.1h.01M112.0 553.4h.01M86.3 596.3h.01M104.3 554.7h.01M96.2 551.2h.01M92.0 555.9h.01M118.8 575.6h.01M89.5 608.2h.01M87.0 593.0h.01M104.9 553.7h.01M93.9 568.4h.01M118.2 581.8h.01M86.6 583.0h.01M87.3 567.9h.01M92.9 563.7h.01M89.9 558.8h.01M54.6 588.5h.01M99.1 566.7h.01M95.7 554.8h.01M107.6 558.6h.01M78.5 594.7h.01M91.4 563.6h.01M92.3 547.1h.01M111.0 590.0h.01M110.6 560.0h.01M61.7 584.2h.01M79.6 602.9h.01M98.0 569.1h.01M110.4 545.6h.01M95.2 579.5h.01M53.9 585.9h.01M98.3 543.3h.01M102.1 559.2h.01M91.8 598.6h.01M100.2 565.7h.01M102.9 565.9h.01M93.3 588.3h.01M70.3 589.1h.01M102.3 556.1h.01M102.1 564.0h.01M96.2 585.7h.01M101.2 575.8h.01M111.7 536.3h.01M62.1 588.8h.01M115.3 593.3h.01M119.1 586.3h.01M91.3 557.7h.01M101.2 537.4h.01M94.8 556.1h.01M99.0 560.8h.01M91.4 582.4h.01M91.9 559.8h.01M87.1 593.3h.01M100.1 544.4h.01M99.7 535.3h.01M106.0 544.4h.01M99.6 582.5h.01M120.5 594.4h.01M97.2 549.6h.01M110.7 544.1h.01M93.5 585.8h.01M95.9 553.0h.01" stroke="rgb(223, 101, 107)" stroke-width="1.6" stroke-linecap="round" fill="none"/>
<path d="M97.0 563.3h.01M93.2 561.1h.01M93.4 566.9h.01M93.5 567.4h.01M107.1 542.1h.01M54.5 586.9h.01M106.0 563.8h.01M116.0 584.1h.01M115.9 586.0h.01M104.4 542.2h.01M87.4 605.1h.01M61.2 587.8h.01M113.2 543.3h.01M91.3 605.8h.01M101.1 571.9h.01M88.8 605.7h.01M107.1 568.3h.01M115.9 584.0h.01M105.6 561.1h.01M79.3 606.7h.01M110.9 581.9h.01M91.9 603.8h.01M104.1 540.5h.01M88.3 604.2h.01M78.8 597.1h.01M70.3 583.6h.01M82.3 605.6h.01M99.7 564.0h.01M61.9 584.3h.01M100.3 551.3h.01M61.2 582.1h.01M52.3 588.2h.01M58.5 587.2h.01M61.3 583.9h.01M63.4 591.0h.01M87.4 605.4h.01M101.0 561.2h.01M91.7 557.4h.01M107.3 562.3h.01M50.9 584.5h.01M110.0 533.3h.01M85.0 608.4h.01M58.1 583.3h.01M100.0 569.1h.01M58.2 584.3h.01M95.9 556.6h.01M88.4 601.6h.01M109.5 534.8h.01M94.0 586.3h.01M86.4 608.7h.01M92.6 586.4h.01M111.7 596.1h.01M119.3 583.6h.01M105.9 560.0h.01M94.2 565.6h.01M61.6 590.2h.01M98.4 564.4h.01M100.4 562.9h.01M98.6 553.0h.01M54.9 588.5h.01M56.2 588.8h.01M86.1 606.3h.01M59.1 588.9h.01M82.7 609.2h.01M98.9 559.1h.01M90.8 605.6h.01M116.1 595.4h.01M92.6 564.1h.01M113.4 584.0h.01M101.0 566.5h.01M108.4 539.6h.01M102.1 555.3h.01M64.8 583.7h.01M107.7 589.8h.01M106.0 553.8h.01M96.1 561.6h.01M94.4 562.2h.01M85.6 608.2h.01" stroke="rgb(218, 81, 88)" stroke-width="1.6" stroke-linecap="round" fill="none"/>
<path d="M56.7 585.2h.01M84.2 601.5h.01M88.3 601.5h.01M87.1 607.2h.01M98.2 563.7h.01M61.4 583.1h.01M88.0 602.5h.01M115.0 589.5h.01M89.2 606.1h.01M56.0 589.2h.01M83.1 603.2h.01M86.4 607.0h.01M82.3 599.5h.01M57.5 586.8h.01M88.8 603.3h.01M99.8 563.8h.01M110.3 538.3h.01M62.3 586.9h.01M86.5 600.4h.01M57.9 584.4h.01M92.9 558.8h.01M61.4 588.1h.01M61.3 590.2h.01M82.2 603.5h.01M87.4 607.7h.01M82.3 598.3h.01M60.3 585.4h.01M59.8 586.6h.01M79.3 604.6h.01M76.0 603.4h.01M96.2 567.8h.01M88.7 606.4h.01M59.3 587.5h.01M96.6 559.1h.01M99.8 588.9h.01M85.7 606.6h.01M85.4 603.8h.01M80.8 601.0h.01M84.3 600.9h.01M82.8 608.3h.01M83.8 601.1h.01M87.4 603.4h.01M93.8 556.5h.01M111.6 539.8h.01M58.8 586.1h.01M79.4 599.8h.01M86.2 604.2h.01M87.0 607.3h.01M98.0 541.9h.01M60.0 585.9h.01M98.9 560.3h.01M85.3 603.3h.01M91.6 562.3h.01M83.6 607.4h.01M98.6 558.7h.01M82.6 605.7h.01M88.1 606.4h.01M79.4 601.3h.01M57.1 586.0h.01M54.1 587.2h.01M101.0 564.1h.01M85.0 604.0h.01" stroke="rgb(214, 62, 69)" stroke-width="1.6" stroke-linecap="round" fill="none"/>
<text x="77.30" y="542.00" font-size="6.2" text-anchor="middle" fill="#3b2b2b">3</text>
<text x="107.00" y="545.50" font-size="6.2" text-anchor="middle" fill="#3b2b2b">2</text>
<text x="67.30" y="553.50" font-size="6.2" text-anchor="middle" fill="#3b2b2b">1</text>
<text x="91.00" y="553.50" font-size="6.2" text-anchor="middle" fill="#3b2b2b">9</text>
<text x="44.20" y="565.20" font-size="6.2" text-anchor="middle" fill="#3b2b2b">11</text>
<text x="65.80" y="565.20" font-size="6.2" text-anchor="middle" fill="#3b2b2b">10</text>
<text x="94.40" y="568.20" font-size="6.2" text-anchor="middle" fill="#3b2b2b">5</text>
<text x="64.60" y="579.30" font-size="6.2" text-anchor="middle" fill="#3b2b2b">0</text>
<text x="91.00" y="588.30" font-size="6.2" text-anchor="middle" fill="#3b2b2b">6</text>
<text x="115.60" y="591.80" font-size="6.2" text-anchor="middle" fill="#3b2b2b">4</text>
<text x="54.00" y="589.50" font-size="6.2" text-anchor="middle" fill="#3b2b2b">8</text>
<text x="84.40" y="606.00" font-size="6.2" text-anchor="middle" fill="#3b2b2b">7</text>
<line x1="36.20" y1="526.00" x2="36.20" y2="614.20" stroke="#161616" stroke-width="1.1"/>
<line x1="33.60" y1="533.80" x2="36.20" y2="533.80" stroke="#161616" stroke-width="1.1"/>
<text x="31.40" y="536.00" font-size="6.2" text-anchor="end" fill="#231f20">4</text>
<line x1="33.60" y1="548.60" x2="36.20" y2="548.60" stroke="#161616" stroke-width="1.1"/>
<text x="31.40" y="550.80" font-size="6.2" text-anchor="end" fill="#231f20">2</text>
<line x1="33.60" y1="563.40" x2="36.20" y2="563.40" stroke="#161616" stroke-width="1.1"/>
<text x="31.40" y="565.60" font-size="6.2" text-anchor="end" fill="#231f20">0</text>
<line x1="33.60" y1="578.20" x2="36.20" y2="578.20" stroke="#161616" stroke-width="1.1"/>
<text x="31.40" y="580.40" font-size="6.2" text-anchor="end" fill="#231f20">−2</text>
<line x1="33.60" y1="593.40" x2="36.20" y2="593.40" stroke="#161616" stroke-width="1.1"/>
<text x="31.40" y="595.60" font-size="6.2" text-anchor="end" fill="#231f20">−4</text>
<line x1="33.60" y1="608.40" x2="36.20" y2="608.40" stroke="#161616" stroke-width="1.1"/>
<text x="31.40" y="610.60" font-size="6.2" text-anchor="end" fill="#231f20">−6</text>
<line x1="36.20" y1="614.20" x2="126.20" y2="614.20" stroke="#161616" stroke-width="1.1"/>
<line x1="53.80" y1="614.20" x2="53.80" y2="616.80" stroke="#161616" stroke-width="1.1"/>
<text x="53.80" y="626.00" font-size="6.5" text-anchor="middle" fill="#231f20">−5</text>
<line x1="83.90" y1="614.20" x2="83.90" y2="616.80" stroke="#161616" stroke-width="1.1"/>
<text x="83.90" y="626.00" font-size="6.5" text-anchor="middle" fill="#231f20">0</text>
<line x1="114.00" y1="614.20" x2="114.00" y2="616.80" stroke="#161616" stroke-width="1.1"/>
<text x="114.00" y="626.00" font-size="6.5" text-anchor="middle" fill="#231f20">5</text>
<text x="81.00" y="638.60" font-size="10.0" text-anchor="middle" fill="#231f20" textLength="26.90" lengthAdjust="spacingAndGlyphs">UMAP 1</text>
<text transform="translate(18.5,569.9) rotate(-90)" font-size="10.6" text-anchor="middle" fill="#231f20" textLength="26.7" lengthAdjust="spacingAndGlyphs">UMAP 2</text>
<text x="80.80" y="520.60" font-size="8.2" text-anchor="middle" fill="#231f20">FOXO3 regulon</text>
<defs><linearGradient id="cb" x1="0" y1="0" x2="0" y2="1"><stop offset="0" stop-color="#dd1f26"/><stop offset="0.45" stop-color="#ec6c6c"/><stop offset="1" stop-color="#fdf0ee"/></linearGradient></defs>
<rect x="134.20" y="554.20" width="8.60" height="40.60" fill="url(#cb)"/>
<text x="139.50" y="544.90" font-size="6.1" text-anchor="middle" fill="#231f20">regulon</text>
<text x="139.50" y="551.30" font-size="6.1" text-anchor="middle" fill="#231f20">score</text>
<text x="145.80" y="560.10" font-size="6.4" fill="#231f20">0.2</text>
<text x="145.80" y="594.40" font-size="6.4" fill="#231f20">0.05</text>
<line x1="212.80" y1="509.50" x2="212.80" y2="568.50" stroke="#161616" stroke-width="1.1"/>
<line x1="209.40" y1="512.00" x2="212.80" y2="512.00" stroke="#161616" stroke-width="1.1"/>
<text x="206.50" y="514.20" font-size="6.3" text-anchor="end" fill="#231f20">0.2</text>
<line x1="209.40" y1="567.20" x2="212.80" y2="567.20" stroke="#161616" stroke-width="1.1"/>
<text x="206.50" y="569.40" font-size="6.3" text-anchor="end" fill="#231f20">0.0</text>
<line x1="212.80" y1="575.00" x2="212.80" y2="631.40" stroke="#161616" stroke-width="1.1"/>
<line x1="209.40" y1="576.60" x2="212.80" y2="576.60" stroke="#161616" stroke-width="1.1"/>
<text x="206.50" y="578.80" font-size="6.3" text-anchor="end" fill="#231f20">0.6</text>
<line x1="209.40" y1="631.20" x2="212.80" y2="631.20" stroke="#161616" stroke-width="1.1"/>
<text x="206.50" y="633.40" font-size="6.3" text-anchor="end" fill="#231f20">0.0</text>
<line x1="212.80" y1="631.40" x2="411.50" y2="631.40" stroke="#161616" stroke-width="1.1"/>
<line x1="223.30" y1="631.40" x2="223.30" y2="634.00" stroke="#161616" stroke-width="1.1"/>
<text x="223.30" y="642.70" font-size="6.5" text-anchor="middle" fill="#231f20">0</text>
<line x1="239.26" y1="631.40" x2="239.26" y2="634.00" stroke="#161616" stroke-width="1.1"/>
<text x="239.26" y="642.70" font-size="6.5" text-anchor="middle" fill="#231f20">1</text>
<line x1="255.22" y1="631.40" x2="255.22" y2="634.00" stroke="#161616" stroke-width="1.1"/>
<text x="255.22" y="642.70" font-size="6.5" text-anchor="middle" fill="#231f20">2</text>
<line x1="271.18" y1="631.40" x2="271.18" y2="634.00" stroke="#161616" stroke-width="1.1"/>
<text x="271.18" y="642.70" font-size="6.5" text-anchor="middle" fill="#231f20">3</text>
<line x1="287.14" y1="631.40" x2="287.14" y2="634.00" stroke="#161616" stroke-width="1.1"/>
<text x="287.14" y="642.70" font-size="6.5" text-anchor="middle" fill="#231f20">4</text>
<line x1="303.10" y1="631.40" x2="303.10" y2="634.00" stroke="#161616" stroke-width="1.1"/>
<text x="303.10" y="642.70" font-size="6.5" text-anchor="middle" fill="#231f20">5</text>
<line x1="319.06" y1="631.40" x2="319.06" y2="634.00" stroke="#161616" stroke-width="1.1"/>
<text x="319.06" y="642.70" font-size="6.5" text-anchor="middle" fill="#231f20">6</text>
<line x1="335.02" y1="631.40" x2="335.02" y2="634.00" stroke="#161616" stroke-width="1.1"/>
<text x="335.02" y="642.70" font-size="6.5" text-anchor="middle" fill="#231f20">7</text>
<line x1="350.98" y1="631.40" x2="350.98" y2="634.00" stroke="#161616" stroke-width="1.1"/>
<text x="350.98" y="642.70" font-size="6.5" text-anchor="middle" fill="#231f20">8</text>
<line x1="366.94" y1="631.40" x2="366.94" y2="634.00" stroke="#161616" stroke-width="1.1"/>
<text x="366.94" y="642.70" font-size="6.5" text-anchor="middle" fill="#231f20">9</text>
<line x1="382.90" y1="631.40" x2="382.90" y2="634.00" stroke="#161616" stroke-width="1.1"/>
<text x="382.90" y="642.70" font-size="6.5" text-anchor="middle" fill="#231f20">10</text>
<line x1="398.86" y1="631.40" x2="398.86" y2="634.00" stroke="#161616" stroke-width="1.1"/>
<text x="398.86" y="642.70" font-size="6.5" text-anchor="middle" fill="#231f20">11</text>
<line x1="222.30" y1="534.60" x2="222.30" y2="566.50" stroke="#8c8c8c" stroke-width="1.1"/>
<line x1="222.30" y1="545.00" x2="222.30" y2="551.00" stroke="#444" stroke-width="1.1"/>
<path d="M223.00 550.00 L223.00 550.69 L223.02 551.38 L223.06 552.06 L223.13 552.75 L223.23 553.44 L223.36 554.12 L223.54 554.81 L223.77 555.50 L224.04 556.19 L224.37 556.88 L224.76 557.56 L225.21 558.25 L225.72 558.94 L226.29 559.62 L226.94 560.31 L227.66 561.00 L227.98 561.69 L227.85 562.38 L227.60 563.06 L227.20 563.75 L226.64 564.44 L225.87 565.12 L224.76 565.81 L222.30 566.50 L222.30 566.50 L219.84 565.81 L218.73 565.12 L217.96 564.44 L217.40 563.75 L217.00 563.06 L216.75 562.38 L216.62 561.69 L216.94 561.00 L217.66 560.31 L218.31 559.62 L218.88 558.94 L219.39 558.25 L219.84 557.56 L220.23 556.88 L220.56 556.19 L220.83 555.50 L221.06 554.81 L221.24 554.12 L221.37 553.44 L221.47 552.75 L221.54 552.06 L221.58 551.38 L221.60 550.69 L221.60 550.00 Z" fill="#3e3d8f" stroke="#33304a" stroke-opacity="0.7" stroke-width="0.45"/>
<line x1="222.30" y1="552.00" x2="222.30" y2="565.00" stroke="#222" stroke-opacity="0.5" stroke-width="0.5" stroke-dasharray="0.8 0.8"/>
<line x1="238.10" y1="520.00" x2="238.10" y2="567.40" stroke="#8c8c8c" stroke-width="1.1"/>
<line x1="238.10" y1="550.50" x2="238.10" y2="556.50" stroke="#444" stroke-width="1.1"/>
<path d="M238.80 555.50 L238.81 556.00 L238.84 556.49 L238.91 556.99 L239.03 557.48 L239.21 557.98 L239.46 558.48 L239.78 558.97 L240.19 559.47 L240.69 559.96 L241.29 560.46 L241.99 560.95 L242.80 561.45 L243.72 561.95 L244.77 562.44 L244.87 562.94 L244.75 563.43 L244.55 563.93 L244.25 564.42 L243.85 564.92 L243.33 565.42 L242.67 565.91 L241.81 566.41 L240.63 566.90 L238.10 567.40 L238.10 567.40 L235.57 566.90 L234.39 566.41 L233.53 565.91 L232.87 565.42 L232.35 564.92 L231.95 564.42 L231.65 563.93 L231.45 563.43 L231.33 562.94 L231.43 562.44 L232.48 561.95 L233.40 561.45 L234.21 560.95 L234.91 560.46 L235.51 559.96 L236.01 559.47 L236.42 558.97 L236.74 558.48 L236.99 557.98 L237.17 557.48 L237.29 556.99 L237.36 556.49 L237.39 556.00 L237.40 555.50 Z" fill="#7b3a93" stroke="#33304a" stroke-opacity="0.7" stroke-width="0.45"/>
<line x1="238.10" y1="557.50" x2="238.10" y2="565.90" stroke="#222" stroke-opacity="0.5" stroke-width="0.5" stroke-dasharray="0.8 0.8"/>
<line x1="254.40" y1="531.70" x2="254.40" y2="567.20" stroke="#8c8c8c" stroke-width="1.1"/>
<line x1="254.40" y1="534.10" x2="254.40" y2="540.10" stroke="#444" stroke-width="1.1"/>
<path d="M254.40 538.30 L254.88 539.09 L255.35 539.88 L255.79 540.66 L256.22 541.45 L256.62 542.24 L257.00 543.03 L257.35 543.81 L257.67 544.60 L257.96 545.39 L258.21 546.17 L258.42 546.96 L258.56 547.75 L258.52 548.54 L258.33 549.33 L258.09 550.11 L257.80 550.90 L257.47 551.69 L257.11 552.47 L256.72 553.26 L256.31 554.05 L255.86 554.84 L255.40 555.62 L254.91 556.41 L254.40 557.20 L254.40 557.20 L253.89 556.41 L253.40 555.62 L252.94 554.84 L252.49 554.05 L252.08 553.26 L251.69 552.47 L251.33 551.69 L251.00 550.90 L250.71 550.11 L250.47 549.33 L250.28 548.54 L250.24 547.75 L250.38 546.96 L250.59 546.17 L250.84 545.39 L251.13 544.60 L251.45 543.81 L251.80 543.03 L252.18 542.24 L252.58 541.45 L253.01 540.66 L253.45 539.88 L253.92 539.09 L254.40 538.30 Z" fill="#e0458e" stroke="#33304a" stroke-opacity="0.7" stroke-width="0.45"/>
<line x1="254.40" y1="540.30" x2="254.40" y2="555.70" stroke="#222" stroke-opacity="0.5" stroke-width="0.5" stroke-dasharray="0.8 0.8"/>
<line x1="270.40" y1="541.60" x2="270.40" y2="567.00" stroke="#8c8c8c" stroke-width="1.1"/>
<line x1="270.40" y1="547.40" x2="270.40" y2="553.40" stroke="#444" stroke-width="1.1"/>
<path d="M271.10 552.40 L271.10 553.01 L271.13 553.62 L271.18 554.23 L271.28 554.83 L271.41 555.44 L271.60 556.05 L271.85 556.66 L272.17 557.27 L272.55 557.88 L273.00 558.48 L273.54 559.09 L274.16 559.70 L274.86 560.31 L275.66 560.92 L276.56 561.52 L276.98 562.13 L276.87 562.74 L276.64 563.35 L276.29 563.96 L275.81 564.57 L275.15 565.17 L274.28 565.78 L273.06 566.39 L270.40 567.00 L270.40 567.00 L267.74 566.39 L266.52 565.78 L265.65 565.17 L264.99 564.57 L264.51 563.96 L264.16 563.35 L263.93 562.74 L263.82 562.13 L264.24 561.52 L265.14 560.92 L265.94 560.31 L266.64 559.70 L267.26 559.09 L267.80 558.48 L268.25 557.88 L268.63 557.27 L268.95 556.66 L269.20 556.05 L269.39 555.44 L269.52 554.83 L269.62 554.23 L269.67 553.62 L269.70 553.01 L269.70 552.40 Z" fill="#e6505f" stroke="#33304a" stroke-opacity="0.7" stroke-width="0.45"/>
<line x1="270.40" y1="554.40" x2="270.40" y2="565.50" stroke="#222" stroke-opacity="0.5" stroke-width="0.5" stroke-dasharray="0.8 0.8"/>
<line x1="286.20" y1="533.20" x2="286.20" y2="566.20" stroke="#8c8c8c" stroke-width="1.1"/>
<line x1="286.20" y1="533.60" x2="286.20" y2="539.60" stroke="#444" stroke-width="1.1"/>
<path d="M286.20 537.80 L286.72 538.61 L287.22 539.42 L287.69 540.23 L288.14 541.03 L288.57 541.84 L288.97 542.65 L289.34 543.46 L289.68 544.27 L289.99 545.08 L290.25 545.88 L290.45 546.69 L290.57 547.50 L290.45 548.31 L290.25 549.12 L289.99 549.92 L289.68 550.73 L289.34 551.54 L288.97 552.35 L288.57 553.16 L288.14 553.97 L287.69 554.77 L287.22 555.58 L286.72 556.39 L286.20 557.20 L286.20 557.20 L285.68 556.39 L285.18 555.58 L284.71 554.77 L284.26 553.97 L283.83 553.16 L283.43 552.35 L283.06 551.54 L282.72 550.73 L282.41 549.92 L282.15 549.12 L281.95 548.31 L281.83 547.50 L281.95 546.69 L282.15 545.88 L282.41 545.08 L282.72 544.27 L283.06 543.46 L283.43 542.65 L283.83 541.84 L284.26 541.03 L284.71 540.23 L285.18 539.42 L285.68 538.61 L286.20 537.80 Z" fill="#f07d31" stroke="#33304a" stroke-opacity="0.7" stroke-width="0.45"/>
<line x1="286.20" y1="539.80" x2="286.20" y2="555.70" stroke="#222" stroke-opacity="0.5" stroke-width="0.5" stroke-dasharray="0.8 0.8"/>
<line x1="301.90" y1="523.80" x2="301.90" y2="566.20" stroke="#8c8c8c" stroke-width="1.1"/>
<line x1="301.90" y1="529.70" x2="301.90" y2="535.70" stroke="#444" stroke-width="1.1"/>
<path d="M301.90 533.90 L302.29 534.66 L302.66 535.43 L303.02 536.19 L303.35 536.95 L303.67 537.71 L303.97 538.48 L304.25 539.24 L304.50 540.00 L304.73 540.76 L304.92 541.52 L305.07 542.29 L305.15 543.05 L305.06 543.81 L304.90 544.58 L304.71 545.34 L304.48 546.10 L304.23 546.86 L303.95 547.62 L303.66 548.39 L303.34 549.15 L303.00 549.91 L302.65 550.67 L302.28 551.44 L301.90 552.20 L301.90 552.20 L301.52 551.44 L301.15 550.67 L300.80 549.91 L300.46 549.15 L300.14 548.39 L299.85 547.62 L299.57 546.86 L299.32 546.10 L299.09 545.34 L298.90 544.58 L298.74 543.81 L298.65 543.05 L298.73 542.29 L298.88 541.52 L299.07 540.76 L299.30 540.00 L299.55 539.24 L299.83 538.48 L300.13 537.71 L300.45 536.95 L300.78 536.19 L301.14 535.43 L301.51 534.66 L301.90 533.90 Z" fill="#d9b52f" stroke="#33304a" stroke-opacity="0.7" stroke-width="0.45"/>
<line x1="301.90" y1="535.90" x2="301.90" y2="550.70" stroke="#222" stroke-opacity="0.5" stroke-width="0.5" stroke-dasharray="0.8 0.8"/>
<line x1="317.90" y1="516.90" x2="317.90" y2="555.40" stroke="#8c8c8c" stroke-width="1.1"/>
<line x1="317.90" y1="523.70" x2="317.90" y2="529.70" stroke="#444" stroke-width="1.1"/>
<path d="M317.90 527.90 L318.30 528.77 L318.68 529.64 L319.05 530.51 L319.40 531.38 L319.73 532.25 L320.04 533.12 L320.33 534.00 L320.59 534.87 L320.83 535.74 L321.04 536.61 L321.21 537.48 L321.33 538.35 L321.28 539.22 L321.13 540.09 L320.93 540.96 L320.69 541.83 L320.42 542.70 L320.13 543.58 L319.81 544.45 L319.46 545.32 L319.10 546.19 L318.72 547.06 L318.32 547.93 L317.90 548.80 L317.90 548.80 L317.48 547.93 L317.08 547.06 L316.70 546.19 L316.34 545.32 L315.99 544.45 L315.67 543.58 L315.38 542.70 L315.11 541.83 L314.87 540.96 L314.67 540.09 L314.52 539.22 L314.47 538.35 L314.59 537.48 L314.76 536.61 L314.97 535.74 L315.21 534.87 L315.47 534.00 L315.76 533.12 L316.07 532.25 L316.40 531.38 L316.75 530.51 L317.12 529.64 L317.50 528.77 L317.90 527.90 Z" fill="#a9c84b" stroke="#33304a" stroke-opacity="0.7" stroke-width="0.45"/>
<line x1="317.90" y1="529.90" x2="317.90" y2="547.30" stroke="#222" stroke-opacity="0.5" stroke-width="0.5" stroke-dasharray="0.8 0.8"/>
<line x1="334.00" y1="523.80" x2="334.00" y2="562.30" stroke="#8c8c8c" stroke-width="1.1"/>
<line x1="334.00" y1="537.50" x2="334.00" y2="543.50" stroke="#444" stroke-width="1.1"/>
<path d="M334.60 542.50 L334.69 543.33 L334.83 544.15 L334.99 544.98 L335.17 545.80 L335.36 546.62 L335.57 547.45 L335.78 548.27 L336.01 549.10 L336.24 549.92 L336.48 550.75 L336.73 551.57 L336.98 552.40 L337.24 553.23 L337.29 554.05 L337.25 554.88 L337.17 555.70 L337.05 556.52 L336.89 557.35 L336.69 558.17 L336.44 559.00 L336.12 559.82 L335.72 560.65 L335.17 561.47 L334.00 562.30 L334.00 562.30 L332.83 561.47 L332.28 560.65 L331.88 559.82 L331.56 559.00 L331.31 558.17 L331.11 557.35 L330.95 556.52 L330.83 555.70 L330.75 554.88 L330.71 554.05 L330.76 553.23 L331.02 552.40 L331.27 551.57 L331.52 550.75 L331.76 549.92 L331.99 549.10 L332.22 548.27 L332.43 547.45 L332.64 546.62 L332.83 545.80 L333.01 544.98 L333.17 544.15 L333.31 543.33 L333.40 542.50 Z" fill="#6db546" stroke="#33304a" stroke-opacity="0.7" stroke-width="0.45"/>
<line x1="334.00" y1="544.50" x2="334.00" y2="560.80" stroke="#222" stroke-opacity="0.5" stroke-width="0.5" stroke-dasharray="0.8 0.8"/>
<line x1="350.10" y1="522.80" x2="350.10" y2="561.80" stroke="#8c8c8c" stroke-width="1.1"/>
<line x1="350.10" y1="531.20" x2="350.10" y2="537.20" stroke="#444" stroke-width="1.1"/>
<path d="M350.10 535.40 L350.49 536.23 L350.86 537.05 L351.21 537.88 L351.55 538.70 L351.86 539.53 L352.16 540.35 L352.43 541.18 L352.68 542.00 L352.89 542.83 L353.08 543.65 L353.22 544.48 L353.24 545.30 L353.13 546.12 L352.97 546.95 L352.78 547.77 L352.56 548.60 L352.32 549.42 L352.05 550.25 L351.77 551.07 L351.47 551.90 L351.15 552.72 L350.81 553.55 L350.46 554.37 L350.10 555.20 L350.10 555.20 L349.74 554.37 L349.39 553.55 L349.05 552.72 L348.73 551.90 L348.43 551.07 L348.15 550.25 L347.88 549.42 L347.64 548.60 L347.42 547.77 L347.23 546.95 L347.07 546.12 L346.96 545.30 L346.98 544.48 L347.12 543.65 L347.31 542.83 L347.52 542.00 L347.77 541.18 L348.04 540.35 L348.34 539.53 L348.65 538.70 L348.99 537.88 L349.34 537.05 L349.71 536.23 L350.10 535.40 Z" fill="#4caf6d" stroke="#33304a" stroke-opacity="0.7" stroke-width="0.45"/>
<line x1="350.10" y1="537.40" x2="350.10" y2="553.70" stroke="#222" stroke-opacity="0.5" stroke-width="0.5" stroke-dasharray="0.8 0.8"/>
<line x1="365.80" y1="531.50" x2="365.80" y2="561.80" stroke="#8c8c8c" stroke-width="1.1"/>
<line x1="365.80" y1="533.90" x2="365.80" y2="539.90" stroke="#444" stroke-width="1.1"/>
<path d="M365.80 538.10 L366.23 538.93 L366.65 539.75 L367.04 540.58 L367.42 541.40 L367.77 542.23 L368.10 543.05 L368.40 543.88 L368.68 544.70 L368.92 545.52 L369.13 546.35 L369.28 547.17 L369.31 548.00 L369.19 548.83 L369.01 549.65 L368.80 550.48 L368.55 551.30 L368.28 552.12 L367.98 552.95 L367.67 553.77 L367.33 554.60 L366.97 555.42 L366.60 556.25 L366.21 557.07 L365.80 557.90 L365.80 557.90 L365.39 557.07 L365.00 556.25 L364.63 555.42 L364.27 554.60 L363.93 553.77 L363.62 552.95 L363.32 552.12 L363.05 551.30 L362.80 550.48 L362.59 549.65 L362.41 548.83 L362.29 548.00 L362.32 547.17 L362.47 546.35 L362.68 545.52 L362.92 544.70 L363.20 543.88 L363.50 543.05 L363.83 542.23 L364.18 541.40 L364.56 540.58 L364.95 539.75 L365.37 538.93 L365.80 538.10 Z" fill="#3bb6ae" stroke="#33304a" stroke-opacity="0.7" stroke-width="0.45"/>
<line x1="365.80" y1="540.10" x2="365.80" y2="556.40" stroke="#222" stroke-opacity="0.5" stroke-width="0.5" stroke-dasharray="0.8 0.8"/>
<line x1="381.70" y1="552.80" x2="381.70" y2="567.20" stroke="#8c8c8c" stroke-width="1.1"/>
<line x1="381.70" y1="552.80" x2="381.70" y2="553.80" stroke="#444" stroke-width="1.1"/>
<path d="M381.70 552.80 L382.32 553.40 L382.94 554.00 L383.56 554.60 L384.18 555.20 L384.81 555.80 L385.43 556.40 L386.05 557.00 L386.67 557.60 L387.29 558.20 L387.38 558.80 L386.93 559.40 L386.49 560.00 L386.05 560.60 L385.62 561.20 L385.19 561.80 L384.77 562.40 L384.35 563.00 L383.94 563.60 L383.53 564.20 L383.13 564.80 L382.74 565.40 L382.37 566.00 L382.01 566.60 L381.70 567.20 L381.70 567.20 L381.39 566.60 L381.03 566.00 L380.66 565.40 L380.27 564.80 L379.87 564.20 L379.46 563.60 L379.05 563.00 L378.63 562.40 L378.21 561.80 L377.78 561.20 L377.35 560.60 L376.91 560.00 L376.47 559.40 L376.02 558.80 L376.11 558.20 L376.73 557.60 L377.35 557.00 L377.97 556.40 L378.59 555.80 L379.22 555.20 L379.84 554.60 L380.46 554.00 L381.08 553.40 L381.70 552.80 Z" fill="#2f97d6" stroke="#33304a" stroke-opacity="0.7" stroke-width="0.45"/>
<line x1="381.70" y1="554.80" x2="381.70" y2="565.70" stroke="#222" stroke-opacity="0.5" stroke-width="0.5" stroke-dasharray="0.8 0.8"/>
<line x1="397.90" y1="535.80" x2="397.90" y2="560.50" stroke="#8c8c8c" stroke-width="1.1"/>
<line x1="397.90" y1="538.60" x2="397.90" y2="544.60" stroke="#444" stroke-width="1.1"/>
<path d="M397.90 542.80 L398.35 543.57 L398.77 544.34 L399.18 545.11 L399.56 545.88 L399.91 546.65 L400.24 547.43 L400.54 548.20 L400.80 548.97 L401.03 549.74 L401.19 550.51 L401.23 551.28 L401.13 552.05 L400.98 552.82 L400.80 553.59 L400.59 554.36 L400.36 555.13 L400.11 555.90 L399.84 556.67 L399.55 557.45 L399.25 558.22 L398.93 558.99 L398.60 559.76 L398.26 560.53 L397.90 561.30 L397.90 561.30 L397.54 560.53 L397.20 559.76 L396.87 558.99 L396.55 558.22 L396.25 557.45 L395.96 556.67 L395.69 555.90 L395.44 555.13 L395.21 554.36 L395.00 553.59 L394.82 552.82 L394.67 552.05 L394.57 551.28 L394.61 550.51 L394.77 549.74 L395.00 548.97 L395.26 548.20 L395.56 547.43 L395.89 546.65 L396.24 545.88 L396.62 545.11 L397.03 544.34 L397.45 543.57 L397.90 542.80 Z" fill="#2b4c9e" stroke="#33304a" stroke-opacity="0.7" stroke-width="0.45"/>
<line x1="397.90" y1="544.80" x2="397.90" y2="559.80" stroke="#222" stroke-opacity="0.5" stroke-width="0.5" stroke-dasharray="0.8 0.8"/>
<rect x="220.40" y="623.60" width="5.80" height="7.80" fill="#3e3d8f"/>
<rect x="236.36" y="626.60" width="5.80" height="4.80" fill="#7b3a93"/>
<rect x="252.32" y="612.70" width="5.80" height="18.70" fill="#e0458e"/>
<rect x="268.28" y="625.80" width="5.80" height="5.60" fill="#e6505f"/>
<rect x="284.24" y="615.00" width="5.80" height="16.40" fill="#f07d31"/>
<rect x="300.20" y="604.60" width="5.80" height="26.80" fill="#d9b52f"/>
<rect x="316.16" y="583.80" width="5.80" height="47.60" fill="#a9c84b"/>
<rect x="332.12" y="611.00" width="5.80" height="20.40" fill="#6db546"/>
<rect x="348.08" y="591.20" width="5.80" height="40.20" fill="#4caf6d"/>
<rect x="364.04" y="605.80" width="5.80" height="25.60" fill="#3bb6ae"/>
<rect x="380.00" y="620.00" width="5.80" height="11.40" fill="#2f97d6"/>
<rect x="395.96" y="606.50" width="5.80" height="24.90" fill="#2b4c9e"/>
<text transform="translate(194.0,539.6) rotate(-90)" font-size="6.7" text-anchor="middle" fill="#231f20" textLength="58.5" lengthAdjust="spacingAndGlyphs"><tspan font-style="italic">FOXO3</tspan> regulon score</text>
<text transform="translate(183.6,602.4) rotate(-90)" font-size="6.7" text-anchor="middle" fill="#231f20" textLength="52" lengthAdjust="spacingAndGlyphs">Normalized <tspan font-style="italic">FOXO3</tspan></text>
<text transform="translate(192.2,602.4) rotate(-90)" font-size="6.7" text-anchor="middle" fill="#231f20" textLength="41.5" lengthAdjust="spacingAndGlyphs">transcripts count</text>
<line x1="458.50" y1="519.80" x2="458.50" y2="533.00" stroke="#231f20" stroke-width="1.1"/>
<line x1="458.50" y1="536.60" x2="458.50" y2="631.40" stroke="#231f20" stroke-width="1.1"/>
<line x1="456.10" y1="533.00" x2="460.90" y2="533.00" stroke="#231f20" stroke-width="1.1"/>
<line x1="456.10" y1="536.60" x2="460.90" y2="536.60" stroke="#231f20" stroke-width="1.1"/>
<line x1="455.90" y1="522.30" x2="458.50" y2="522.30" stroke="#231f20" stroke-width="1.1"/>
<text x="452.70" y="524.50" font-size="6.3" text-anchor="end" fill="#231f20">40</text>
<line x1="455.90" y1="531.60" x2="458.50" y2="531.60" stroke="#231f20" stroke-width="1.1"/>
<text x="452.70" y="533.80" font-size="6.3" text-anchor="end" fill="#231f20">30</text>
<line x1="455.90" y1="631.30" x2="458.50" y2="631.30" stroke="#231f20" stroke-width="1.1"/>
<text x="452.70" y="633.50" font-size="6.3" text-anchor="end" fill="#231f20">0</text>
<line x1="455.90" y1="617.79" x2="458.50" y2="617.79" stroke="#231f20" stroke-width="1.1"/>
<text x="452.70" y="619.99" font-size="6.3" text-anchor="end" fill="#231f20">1</text>
<line x1="455.90" y1="604.28" x2="458.50" y2="604.28" stroke="#231f20" stroke-width="1.1"/>
<text x="452.70" y="606.48" font-size="6.3" text-anchor="end" fill="#231f20">2</text>
<line x1="455.90" y1="590.77" x2="458.50" y2="590.77" stroke="#231f20" stroke-width="1.1"/>
<text x="452.70" y="592.97" font-size="6.3" text-anchor="end" fill="#231f20">3</text>
<line x1="455.90" y1="577.26" x2="458.50" y2="577.26" stroke="#231f20" stroke-width="1.1"/>
<text x="452.70" y="579.46" font-size="6.3" text-anchor="end" fill="#231f20">4</text>
<line x1="455.90" y1="563.75" x2="458.50" y2="563.75" stroke="#231f20" stroke-width="1.1"/>
<text x="452.70" y="565.95" font-size="6.3" text-anchor="end" fill="#231f20">5</text>
<line x1="455.90" y1="550.24" x2="458.50" y2="550.24" stroke="#231f20" stroke-width="1.1"/>
<text x="452.70" y="552.44" font-size="6.3" text-anchor="end" fill="#231f20">6</text>
<line x1="455.90" y1="536.73" x2="458.50" y2="536.73" stroke="#231f20" stroke-width="1.1"/>
<text x="452.70" y="538.93" font-size="6.3" text-anchor="end" fill="#231f20">7</text>
<line x1="458.50" y1="631.40" x2="512.30" y2="631.40" stroke="#231f20" stroke-width="1.1"/>
<line x1="474.20" y1="631.40" x2="474.20" y2="633.60" stroke="#231f20" stroke-width="1.1"/>
<line x1="497.70" y1="631.40" x2="497.70" y2="633.60" stroke="#231f20" stroke-width="1.1"/>
<text x="474.20" y="643.60" font-size="6.3" text-anchor="middle" fill="#231f20">Day</text>
<text x="474.20" y="651.20" font-size="6.3" text-anchor="middle" fill="#231f20">14</text>
<text x="497.50" y="643.60" font-size="6.3" text-anchor="middle" fill="#231f20">Day</text>
<text x="497.50" y="651.20" font-size="6.3" text-anchor="middle" fill="#231f20">100</text>
<text x="486.5" y="513.6" font-size="6.2" text-anchor="middle" fill="#231f20"><tspan font-style="italic">P</tspan> = .0852</text>
<line x1="475.80" y1="518.20" x2="497.70" y2="518.20" stroke="#231f20" stroke-width="0.8"/>
<text transform="translate(439.6,575.2) rotate(-90)" font-size="6.9" text-anchor="middle" fill="#231f20" textLength="121" lengthAdjust="spacingAndGlyphs">Normalized transcript count FOXO3 regulon</text>
<rect x="466.20" y="624.30" width="16.10" height="7.00" fill="#8c82c2" stroke="#2c2a5e" stroke-width="0.7"/>
<rect x="489.50" y="620.00" width="16.30" height="11.30" fill="#e2ebb2" stroke="#6a7a2a" stroke-width="0.7"/>
<circle cx="471.95" cy="628.91" r="0.90" fill="#262666"/>
<circle cx="471.78" cy="628.04" r="0.90" fill="#262666"/>
<circle cx="474.93" cy="621.05" r="0.90" fill="#262666"/>
<circle cx="478.09" cy="628.81" r="0.90" fill="#262666"/>
<circle cx="471.66" cy="628.48" r="0.90" fill="#262666"/>
<circle cx="477.58" cy="627.78" r="0.90" fill="#262666"/>
<circle cx="478.66" cy="630.49" r="0.90" fill="#262666"/>
<circle cx="475.06" cy="628.45" r="0.90" fill="#262666"/>
<circle cx="473.65" cy="627.35" r="0.90" fill="#262666"/>
<circle cx="472.22" cy="625.04" r="0.90" fill="#262666"/>
<circle cx="468.66" cy="630.91" r="0.90" fill="#262666"/>
<circle cx="479.06" cy="629.86" r="0.90" fill="#262666"/>
<circle cx="471.06" cy="630.92" r="0.90" fill="#262666"/>
<circle cx="475.18" cy="624.71" r="0.90" fill="#262666"/>
<circle cx="472.68" cy="626.60" r="0.90" fill="#262666"/>
<circle cx="478.08" cy="631.13" r="0.90" fill="#262666"/>
<circle cx="474.39" cy="615.29" r="0.90" fill="#262666"/>
<circle cx="473.72" cy="618.01" r="0.90" fill="#262666"/>
<circle cx="472.02" cy="627.08" r="0.90" fill="#262666"/>
<circle cx="475.78" cy="627.50" r="0.90" fill="#262666"/>
<circle cx="469.06" cy="630.62" r="0.90" fill="#262666"/>
<circle cx="470.94" cy="631.24" r="0.90" fill="#262666"/>
<circle cx="474.68" cy="628.31" r="0.90" fill="#262666"/>
<circle cx="478.43" cy="631.06" r="0.90" fill="#262666"/>
<circle cx="475.53" cy="630.46" r="0.90" fill="#262666"/>
<circle cx="471.76" cy="630.20" r="0.90" fill="#262666"/>
<circle cx="479.21" cy="631.18" r="0.90" fill="#262666"/>
<circle cx="471.58" cy="628.82" r="0.90" fill="#262666"/>
<circle cx="469.80" cy="628.99" r="0.90" fill="#262666"/>
<circle cx="473.20" cy="623.96" r="0.90" fill="#262666"/>
<circle cx="473.75" cy="628.39" r="0.90" fill="#262666"/>
<circle cx="471.17" cy="627.24" r="0.90" fill="#262666"/>
<circle cx="471.46" cy="628.55" r="0.90" fill="#262666"/>
<circle cx="473.33" cy="626.98" r="0.90" fill="#262666"/>
<circle cx="474.84" cy="628.87" r="0.90" fill="#262666"/>
<circle cx="470.24" cy="630.00" r="0.90" fill="#262666"/>
<circle cx="473.99" cy="607.24" r="0.90" fill="#262666"/>
<circle cx="474.82" cy="609.66" r="0.90" fill="#262666"/>
<circle cx="476.29" cy="624.01" r="0.90" fill="#262666"/>
<circle cx="475.15" cy="626.41" r="0.90" fill="#262666"/>
<circle cx="476.19" cy="629.80" r="0.90" fill="#262666"/>
<circle cx="475.15" cy="630.26" r="0.90" fill="#262666"/>
<circle cx="470.37" cy="629.94" r="0.90" fill="#262666"/>
<circle cx="468.62" cy="631.01" r="0.90" fill="#262666"/>
<circle cx="471.62" cy="625.52" r="0.90" fill="#262666"/>
<circle cx="478.10" cy="629.27" r="0.90" fill="#262666"/>
<circle cx="475.06" cy="623.85" r="0.90" fill="#262666"/>
<circle cx="478.67" cy="629.36" r="0.90" fill="#262666"/>
<circle cx="473.02" cy="618.70" r="0.90" fill="#262666"/>
<circle cx="474.78" cy="623.83" r="0.90" fill="#262666"/>
<circle cx="473.99" cy="631.30" r="0.90" fill="#262666"/>
<circle cx="476.83" cy="630.36" r="0.90" fill="#262666"/>
<circle cx="473.60" cy="621.72" r="0.90" fill="#262666"/>
<circle cx="478.59" cy="628.78" r="0.90" fill="#262666"/>
<circle cx="473.35" cy="615.68" r="0.90" fill="#262666"/>
<circle cx="474.64" cy="629.29" r="0.90" fill="#262666"/>
<circle cx="477.04" cy="631.00" r="0.90" fill="#262666"/>
<circle cx="477.01" cy="627.36" r="0.90" fill="#262666"/>
<circle cx="475.43" cy="625.31" r="0.90" fill="#262666"/>
<circle cx="476.41" cy="630.05" r="0.90" fill="#262666"/>
<circle cx="477.72" cy="630.94" r="0.90" fill="#262666"/>
<circle cx="478.44" cy="629.69" r="0.90" fill="#262666"/>
<circle cx="473.85" cy="618.08" r="0.90" fill="#262666"/>
<circle cx="475.21" cy="625.66" r="0.90" fill="#262666"/>
<circle cx="479.01" cy="630.80" r="0.90" fill="#262666"/>
<circle cx="478.31" cy="630.18" r="0.90" fill="#262666"/>
<circle cx="473.21" cy="630.88" r="0.90" fill="#262666"/>
<circle cx="477.69" cy="631.05" r="0.90" fill="#262666"/>
<circle cx="476.00" cy="624.96" r="0.90" fill="#262666"/>
<circle cx="475.05" cy="630.52" r="0.90" fill="#262666"/>
<circle cx="475.18" cy="628.04" r="0.90" fill="#262666"/>
<circle cx="473.14" cy="628.94" r="0.90" fill="#262666"/>
<circle cx="475.16" cy="630.46" r="0.90" fill="#262666"/>
<circle cx="474.83" cy="626.07" r="0.90" fill="#262666"/>
<circle cx="469.16" cy="630.74" r="0.90" fill="#262666"/>
<circle cx="475.15" cy="627.20" r="0.90" fill="#262666"/>
<circle cx="480.12" cy="630.81" r="0.90" fill="#262666"/>
<circle cx="477.73" cy="629.13" r="0.90" fill="#262666"/>
<circle cx="476.80" cy="630.35" r="0.90" fill="#262666"/>
<circle cx="472.99" cy="630.05" r="0.90" fill="#262666"/>
<circle cx="474.72" cy="617.24" r="0.90" fill="#262666"/>
<circle cx="474.59" cy="624.84" r="0.90" fill="#262666"/>
<circle cx="473.58" cy="629.86" r="0.90" fill="#262666"/>
<circle cx="475.45" cy="622.71" r="0.90" fill="#262666"/>
<circle cx="469.45" cy="630.36" r="0.90" fill="#262666"/>
<circle cx="476.60" cy="629.31" r="0.90" fill="#262666"/>
<circle cx="472.25" cy="623.64" r="0.90" fill="#262666"/>
<circle cx="474.90" cy="627.22" r="0.90" fill="#262666"/>
<circle cx="473.97" cy="630.88" r="0.90" fill="#262666"/>
<circle cx="473.72" cy="613.27" r="0.90" fill="#262666"/>
<circle cx="476.46" cy="630.35" r="0.90" fill="#262666"/>
<circle cx="474.17" cy="630.11" r="0.90" fill="#262666"/>
<circle cx="474.80" cy="625.41" r="0.90" fill="#262666"/>
<circle cx="478.51" cy="629.71" r="0.90" fill="#262666"/>
<circle cx="471.62" cy="629.90" r="0.90" fill="#262666"/>
<circle cx="468.34" cy="631.00" r="0.90" fill="#262666"/>
<circle cx="471.81" cy="630.92" r="0.90" fill="#262666"/>
<circle cx="475.55" cy="627.83" r="0.90" fill="#262666"/>
<circle cx="470.90" cy="630.19" r="0.90" fill="#262666"/>
<circle cx="471.77" cy="627.65" r="0.90" fill="#262666"/>
<circle cx="478.18" cy="629.45" r="0.90" fill="#262666"/>
<circle cx="475.63" cy="628.90" r="0.90" fill="#262666"/>
<circle cx="474.06" cy="618.59" r="0.90" fill="#262666"/>
<circle cx="477.58" cy="628.67" r="0.90" fill="#262666"/>
<circle cx="472.88" cy="627.90" r="0.90" fill="#262666"/>
<circle cx="474.86" cy="623.30" r="0.90" fill="#262666"/>
<circle cx="470.68" cy="630.50" r="0.90" fill="#262666"/>
<circle cx="473.37" cy="630.63" r="0.90" fill="#262666"/>
<circle cx="475.22" cy="621.80" r="0.90" fill="#262666"/>
<circle cx="476.13" cy="624.53" r="0.90" fill="#262666"/>
<circle cx="474.93" cy="615.09" r="0.90" fill="#262666"/>
<circle cx="474.00" cy="613.06" r="0.90" fill="#262666"/>
<circle cx="474.34" cy="611.03" r="0.90" fill="#262666"/>
<circle cx="473.91" cy="609.01" r="0.90" fill="#262666"/>
<circle cx="473.65" cy="606.98" r="0.90" fill="#262666"/>
<circle cx="474.19" cy="604.96" r="0.90" fill="#262666"/>
<circle cx="474.69" cy="603.60" r="0.90" fill="#262666"/>
<circle cx="474.70" cy="601.58" r="0.90" fill="#262666"/>
<circle cx="474.50" cy="600.23" r="0.90" fill="#262666"/>
<circle cx="474.84" cy="598.20" r="0.90" fill="#262666"/>
<circle cx="473.88" cy="596.17" r="0.90" fill="#262666"/>
<circle cx="473.73" cy="593.47" r="0.90" fill="#262666"/>
<circle cx="474.20" cy="567.13" r="1.30" fill="#141420"/>
<circle cx="495.07" cy="627.62" r="0.95" fill="#e6ecc0" stroke="#7a8a30" stroke-width="0.45"/>
<circle cx="494.33" cy="629.32" r="0.95" fill="#e6ecc0" stroke="#7a8a30" stroke-width="0.45"/>
<circle cx="497.87" cy="629.82" r="0.95" fill="#e6ecc0" stroke="#7a8a30" stroke-width="0.45"/>
<circle cx="499.44" cy="628.02" r="0.95" fill="#e6ecc0" stroke="#7a8a30" stroke-width="0.45"/>
<circle cx="499.45" cy="625.26" r="0.95" fill="#e6ecc0" stroke="#7a8a30" stroke-width="0.45"/>
<circle cx="498.98" cy="627.12" r="0.95" fill="#e6ecc0" stroke="#7a8a30" stroke-width="0.45"/>
<circle cx="501.74" cy="628.97" r="0.95" fill="#e6ecc0" stroke="#7a8a30" stroke-width="0.45"/>
<circle cx="497.68" cy="620.08" r="0.95" fill="#e6ecc0" stroke="#7a8a30" stroke-width="0.45"/>
<circle cx="498.38" cy="606.62" r="0.95" fill="#e6ecc0" stroke="#7a8a30" stroke-width="0.45"/>
<circle cx="494.68" cy="627.60" r="0.95" fill="#e6ecc0" stroke="#7a8a30" stroke-width="0.45"/>
<circle cx="494.36" cy="630.82" r="0.95" fill="#e6ecc0" stroke="#7a8a30" stroke-width="0.45"/>
<circle cx="498.02" cy="631.10" r="0.95" fill="#e6ecc0" stroke="#7a8a30" stroke-width="0.45"/>
<circle cx="497.19" cy="618.64" r="0.95" fill="#e6ecc0" stroke="#7a8a30" stroke-width="0.45"/>
<circle cx="500.45" cy="631.04" r="0.95" fill="#e6ecc0" stroke="#7a8a30" stroke-width="0.45"/>
<circle cx="498.28" cy="623.73" r="0.95" fill="#e6ecc0" stroke="#7a8a30" stroke-width="0.45"/>
<circle cx="497.83" cy="626.11" r="0.95" fill="#e6ecc0" stroke="#7a8a30" stroke-width="0.45"/>
<circle cx="500.85" cy="629.03" r="0.95" fill="#e6ecc0" stroke="#7a8a30" stroke-width="0.45"/>
<circle cx="497.90" cy="621.67" r="0.95" fill="#e6ecc0" stroke="#7a8a30" stroke-width="0.45"/>
<circle cx="495.44" cy="631.18" r="0.95" fill="#e6ecc0" stroke="#7a8a30" stroke-width="0.45"/>
<circle cx="496.33" cy="630.40" r="0.95" fill="#e6ecc0" stroke="#7a8a30" stroke-width="0.45"/>
<circle cx="500.21" cy="627.57" r="0.95" fill="#e6ecc0" stroke="#7a8a30" stroke-width="0.45"/>
<circle cx="502.51" cy="631.15" r="0.95" fill="#e6ecc0" stroke="#7a8a30" stroke-width="0.45"/>
<circle cx="496.86" cy="620.43" r="0.95" fill="#e6ecc0" stroke="#7a8a30" stroke-width="0.45"/>
<circle cx="501.25" cy="629.64" r="0.95" fill="#e6ecc0" stroke="#7a8a30" stroke-width="0.45"/>
<circle cx="503.05" cy="630.37" r="0.95" fill="#e6ecc0" stroke="#7a8a30" stroke-width="0.45"/>
<circle cx="497.99" cy="631.00" r="0.95" fill="#e6ecc0" stroke="#7a8a30" stroke-width="0.45"/>
<circle cx="498.07" cy="625.21" r="0.95" fill="#e6ecc0" stroke="#7a8a30" stroke-width="0.45"/>
<circle cx="495.50" cy="627.67" r="0.95" fill="#e6ecc0" stroke="#7a8a30" stroke-width="0.45"/>
<circle cx="497.88" cy="625.19" r="0.95" fill="#e6ecc0" stroke="#7a8a30" stroke-width="0.45"/>
<circle cx="497.72" cy="624.76" r="0.95" fill="#e6ecc0" stroke="#7a8a30" stroke-width="0.45"/>
<circle cx="498.03" cy="621.19" r="0.95" fill="#e6ecc0" stroke="#7a8a30" stroke-width="0.45"/>
<circle cx="496.91" cy="611.77" r="0.95" fill="#e6ecc0" stroke="#7a8a30" stroke-width="0.45"/>
<circle cx="499.80" cy="624.22" r="0.95" fill="#e6ecc0" stroke="#7a8a30" stroke-width="0.45"/>
<circle cx="497.87" cy="629.93" r="0.95" fill="#e6ecc0" stroke="#7a8a30" stroke-width="0.45"/>
<circle cx="497.00" cy="627.34" r="0.95" fill="#e6ecc0" stroke="#7a8a30" stroke-width="0.45"/>
<circle cx="500.98" cy="630.09" r="0.95" fill="#e6ecc0" stroke="#7a8a30" stroke-width="0.45"/>
<circle cx="498.45" cy="631.23" r="0.95" fill="#e6ecc0" stroke="#7a8a30" stroke-width="0.45"/>
<circle cx="497.64" cy="627.38" r="0.95" fill="#e6ecc0" stroke="#7a8a30" stroke-width="0.45"/>
<circle cx="498.49" cy="623.61" r="0.95" fill="#e6ecc0" stroke="#7a8a30" stroke-width="0.45"/>
<circle cx="492.97" cy="630.09" r="0.95" fill="#e6ecc0" stroke="#7a8a30" stroke-width="0.45"/>
<circle cx="498.07" cy="629.35" r="0.95" fill="#e6ecc0" stroke="#7a8a30" stroke-width="0.45"/>
<circle cx="496.95" cy="628.69" r="0.95" fill="#e6ecc0" stroke="#7a8a30" stroke-width="0.45"/>
<circle cx="499.67" cy="623.96" r="0.95" fill="#e6ecc0" stroke="#7a8a30" stroke-width="0.45"/>
<circle cx="500.42" cy="626.79" r="0.95" fill="#e6ecc0" stroke="#7a8a30" stroke-width="0.45"/>
<circle cx="496.48" cy="625.45" r="0.95" fill="#e6ecc0" stroke="#7a8a30" stroke-width="0.45"/>
<circle cx="497.60" cy="622.63" r="0.95" fill="#e6ecc0" stroke="#7a8a30" stroke-width="0.45"/>
<circle cx="494.70" cy="628.23" r="0.95" fill="#e6ecc0" stroke="#7a8a30" stroke-width="0.45"/>
<circle cx="497.48" cy="621.66" r="0.95" fill="#e6ecc0" stroke="#7a8a30" stroke-width="0.45"/>
<circle cx="498.37" cy="616.76" r="0.95" fill="#e6ecc0" stroke="#7a8a30" stroke-width="0.45"/>
<circle cx="502.51" cy="630.74" r="0.95" fill="#e6ecc0" stroke="#7a8a30" stroke-width="0.45"/>
<circle cx="497.66" cy="614.74" r="0.95" fill="#e6ecc0" stroke="#7a8a30" stroke-width="0.45"/>
<circle cx="496.96" cy="623.43" r="0.95" fill="#e6ecc0" stroke="#7a8a30" stroke-width="0.45"/>
<circle cx="494.13" cy="630.45" r="0.95" fill="#e6ecc0" stroke="#7a8a30" stroke-width="0.45"/>
<circle cx="498.56" cy="627.59" r="0.95" fill="#e6ecc0" stroke="#7a8a30" stroke-width="0.45"/>
<circle cx="499.89" cy="625.27" r="0.95" fill="#e6ecc0" stroke="#7a8a30" stroke-width="0.45"/>
<circle cx="496.92" cy="616.52" r="0.95" fill="#e6ecc0" stroke="#7a8a30" stroke-width="0.45"/>
<circle cx="500.01" cy="628.40" r="0.95" fill="#e6ecc0" stroke="#7a8a30" stroke-width="0.45"/>
<circle cx="494.91" cy="626.13" r="0.95" fill="#e6ecc0" stroke="#7a8a30" stroke-width="0.45"/>
<circle cx="496.97" cy="618.31" r="0.95" fill="#e6ecc0" stroke="#7a8a30" stroke-width="0.45"/>
<circle cx="496.82" cy="621.52" r="0.95" fill="#e6ecc0" stroke="#7a8a30" stroke-width="0.45"/>
<circle cx="498.04" cy="613.57" r="0.95" fill="#e6ecc0" stroke="#7a8a30" stroke-width="0.45"/>
<circle cx="496.43" cy="627.47" r="0.95" fill="#e6ecc0" stroke="#7a8a30" stroke-width="0.45"/>
<circle cx="497.00" cy="624.83" r="0.95" fill="#e6ecc0" stroke="#7a8a30" stroke-width="0.45"/>
<circle cx="498.96" cy="629.89" r="0.95" fill="#e6ecc0" stroke="#7a8a30" stroke-width="0.45"/>
<circle cx="496.10" cy="623.44" r="0.95" fill="#e6ecc0" stroke="#7a8a30" stroke-width="0.45"/>
<circle cx="498.39" cy="620.83" r="0.95" fill="#e6ecc0" stroke="#7a8a30" stroke-width="0.45"/>
<circle cx="495.83" cy="625.00" r="0.95" fill="#e6ecc0" stroke="#7a8a30" stroke-width="0.45"/>
<circle cx="497.74" cy="623.53" r="0.95" fill="#e6ecc0" stroke="#7a8a30" stroke-width="0.45"/>
<circle cx="495.10" cy="629.83" r="0.95" fill="#e6ecc0" stroke="#7a8a30" stroke-width="0.45"/>
<circle cx="497.04" cy="617.16" r="0.95" fill="#e6ecc0" stroke="#7a8a30" stroke-width="0.45"/>
<circle cx="497.75" cy="607.12" r="0.95" fill="#e6ecc0" stroke="#7a8a30" stroke-width="0.45"/>
<circle cx="497.60" cy="608.04" r="0.95" fill="#e6ecc0" stroke="#7a8a30" stroke-width="0.45"/>
<circle cx="496.93" cy="626.57" r="0.95" fill="#e6ecc0" stroke="#7a8a30" stroke-width="0.45"/>
<circle cx="497.42" cy="621.69" r="0.95" fill="#e6ecc0" stroke="#7a8a30" stroke-width="0.45"/>
<circle cx="497.96" cy="628.93" r="0.95" fill="#e6ecc0" stroke="#7a8a30" stroke-width="0.45"/>
<circle cx="496.99" cy="616.51" r="0.95" fill="#e6ecc0" stroke="#7a8a30" stroke-width="0.45"/>
<circle cx="496.93" cy="619.41" r="0.95" fill="#e6ecc0" stroke="#7a8a30" stroke-width="0.45"/>
<circle cx="498.83" cy="628.67" r="0.95" fill="#e6ecc0" stroke="#7a8a30" stroke-width="0.45"/>
<circle cx="499.36" cy="630.77" r="0.95" fill="#e6ecc0" stroke="#7a8a30" stroke-width="0.45"/>
<circle cx="497.92" cy="627.73" r="0.95" fill="#e6ecc0" stroke="#7a8a30" stroke-width="0.45"/>
<circle cx="499.83" cy="626.39" r="0.95" fill="#e6ecc0" stroke="#7a8a30" stroke-width="0.45"/>
<circle cx="498.09" cy="622.32" r="0.95" fill="#e6ecc0" stroke="#7a8a30" stroke-width="0.45"/>
<circle cx="500.14" cy="627.20" r="0.95" fill="#e6ecc0" stroke="#7a8a30" stroke-width="0.45"/>
<circle cx="494.49" cy="631.12" r="0.95" fill="#e6ecc0" stroke="#7a8a30" stroke-width="0.45"/>
<circle cx="498.45" cy="621.13" r="0.95" fill="#e6ecc0" stroke="#7a8a30" stroke-width="0.45"/>
<circle cx="501.43" cy="630.89" r="0.95" fill="#e6ecc0" stroke="#7a8a30" stroke-width="0.45"/>
<circle cx="498.99" cy="621.42" r="0.95" fill="#e6ecc0" stroke="#7a8a30" stroke-width="0.45"/>
<circle cx="495.68" cy="630.13" r="0.95" fill="#e6ecc0" stroke="#7a8a30" stroke-width="0.45"/>
<circle cx="496.07" cy="628.79" r="0.95" fill="#e6ecc0" stroke="#7a8a30" stroke-width="0.45"/>
<circle cx="499.10" cy="621.78" r="0.95" fill="#e6ecc0" stroke="#7a8a30" stroke-width="0.45"/>
<circle cx="497.11" cy="616.44" r="0.95" fill="#e6ecc0" stroke="#7a8a30" stroke-width="0.45"/>
<circle cx="498.55" cy="612.39" r="0.95" fill="#e6ecc0" stroke="#7a8a30" stroke-width="0.45"/>
<circle cx="498.30" cy="608.33" r="0.95" fill="#e6ecc0" stroke="#7a8a30" stroke-width="0.45"/>
<circle cx="497.16" cy="604.28" r="0.95" fill="#e6ecc0" stroke="#7a8a30" stroke-width="0.45"/>
<circle cx="497.33" cy="600.23" r="0.95" fill="#e6ecc0" stroke="#7a8a30" stroke-width="0.45"/>
<circle cx="498.02" cy="596.17" r="0.95" fill="#e6ecc0" stroke="#7a8a30" stroke-width="0.45"/>
<circle cx="497.36" cy="592.12" r="0.95" fill="#e6ecc0" stroke="#7a8a30" stroke-width="0.45"/>
<circle cx="497.13" cy="588.07" r="0.95" fill="#e6ecc0" stroke="#7a8a30" stroke-width="0.45"/>
<circle cx="498.17" cy="584.01" r="0.95" fill="#e6ecc0" stroke="#7a8a30" stroke-width="0.45"/>
<circle cx="497.59" cy="579.96" r="0.95" fill="#e6ecc0" stroke="#7a8a30" stroke-width="0.45"/>
<circle cx="498.11" cy="577.26" r="0.95" fill="#e6ecc0" stroke="#7a8a30" stroke-width="0.45"/>
<circle cx="497.70" cy="570.50" r="1.25" fill="#a4a88a" stroke="#80846a" stroke-width="0.4"/>
<circle cx="497.70" cy="548.89" r="1.25" fill="#a4a88a" stroke="#80846a" stroke-width="0.4"/>
<circle cx="497.70" cy="547.54" r="1.25" fill="#a4a88a" stroke="#80846a" stroke-width="0.4"/>
<circle cx="497.70" cy="523.80" r="1.25" fill="#a4a88a" stroke="#80846a" stroke-width="0.4"/>
<line x1="474.20" y1="624.30" x2="474.20" y2="613.40" stroke="#1a1a4a" stroke-width="1.1"/>
<line x1="470.00" y1="613.40" x2="478.50" y2="613.40" stroke="#1a1a4a" stroke-width="1.1"/>
<line x1="497.70" y1="620.00" x2="497.70" y2="577.20" stroke="#4f5a1a" stroke-width="1.1"/>
<line x1="493.00" y1="577.20" x2="501.50" y2="577.20" stroke="#4f5a1a" stroke-width="1.1"/>
<rect x="0.5" y="0.5" width="519" height="658" fill="none" stroke="#6b6b6b" stroke-width="1"/>
</svg>
</body></html>
